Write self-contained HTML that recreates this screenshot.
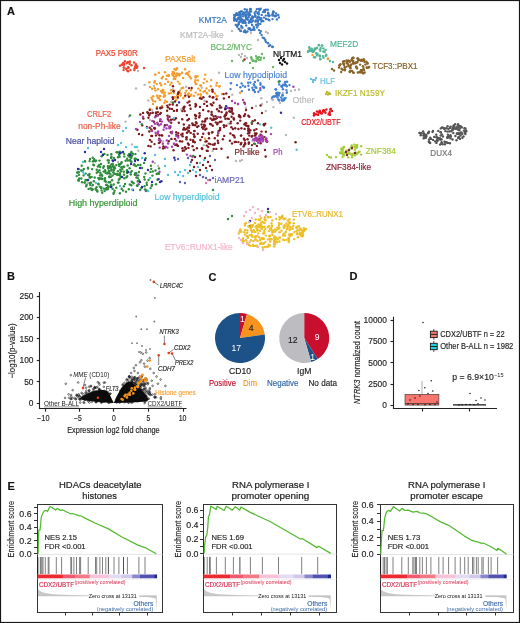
<!DOCTYPE html><html><head><meta charset="utf-8"><style>html,body{margin:0;padding:0;background:#fff;}svg{display:block;will-change:transform;}</style></head><body><svg width="520" height="623" viewBox="0 0 520 623" font-family="Liberation Sans, sans-serif"><rect x="0" y="0" width="520" height="623" fill="#fff"/><g fill="#3b78c3"><circle cx="249.2" cy="12.2" r="1.2"/><circle cx="264.6" cy="10.3" r="1.2"/><circle cx="259.2" cy="17.5" r="1.2"/><circle cx="236.7" cy="20.9" r="1.2"/><circle cx="235.8" cy="19.1" r="1.2"/><circle cx="254.0" cy="28.8" r="1.2"/><circle cx="239.8" cy="14.0" r="1.2"/><circle cx="261.1" cy="18.2" r="1.2"/><circle cx="274.3" cy="15.6" r="1.2"/><circle cx="240.8" cy="11.4" r="1.2"/><circle cx="248.5" cy="28.5" r="1.2"/><circle cx="242.5" cy="22.7" r="1.2"/><circle cx="264.0" cy="17.6" r="1.2"/><circle cx="259.7" cy="10.0" r="1.2"/><circle cx="236.8" cy="13.5" r="1.2"/><circle cx="266.0" cy="19.0" r="1.2"/><circle cx="248.8" cy="22.8" r="1.2"/><circle cx="255.3" cy="15.8" r="1.2"/><circle cx="245.5" cy="22.6" r="1.2"/><circle cx="268.3" cy="15.6" r="1.2"/><circle cx="253.7" cy="27.0" r="1.2"/><circle cx="241.1" cy="20.5" r="1.2"/><circle cx="235.8" cy="24.9" r="1.2"/><circle cx="275.1" cy="16.2" r="1.2"/><circle cx="261.3" cy="19.7" r="1.2"/><circle cx="256.3" cy="24.8" r="1.2"/><circle cx="236.9" cy="25.7" r="1.2"/><circle cx="272.6" cy="15.5" r="1.2"/><circle cx="252.1" cy="24.9" r="1.2"/><circle cx="235.1" cy="19.8" r="1.2"/><circle cx="241.9" cy="11.4" r="1.2"/><circle cx="240.1" cy="14.6" r="1.2"/><circle cx="252.4" cy="29.8" r="1.2"/><circle cx="237.8" cy="19.5" r="1.2"/><circle cx="247.1" cy="18.7" r="1.2"/><circle cx="250.9" cy="30.2" r="1.2"/><circle cx="242.3" cy="14.2" r="1.2"/><circle cx="245.0" cy="20.4" r="1.2"/><circle cx="261.7" cy="14.9" r="1.2"/><circle cx="234.2" cy="18.8" r="1.2"/><circle cx="251.4" cy="22.4" r="1.2"/><circle cx="258.2" cy="23.6" r="1.2"/><circle cx="265.8" cy="9.8" r="1.2"/><circle cx="252.4" cy="18.3" r="1.2"/><circle cx="238.9" cy="24.0" r="1.2"/><circle cx="243.8" cy="12.5" r="1.2"/><circle cx="250.0" cy="9.8" r="1.2"/><circle cx="238.8" cy="17.4" r="1.2"/><circle cx="262.9" cy="12.1" r="1.2"/><circle cx="245.9" cy="17.0" r="1.2"/><circle cx="251.1" cy="11.5" r="1.2"/><circle cx="255.9" cy="20.4" r="1.2"/><circle cx="250.1" cy="15.0" r="1.2"/><circle cx="273.0" cy="12.5" r="1.2"/><circle cx="258.8" cy="12.1" r="1.2"/><circle cx="259.5" cy="9.2" r="1.2"/><circle cx="246.3" cy="17.5" r="1.2"/><circle cx="241.9" cy="27.4" r="1.2"/><circle cx="249.5" cy="14.0" r="1.2"/><circle cx="244.7" cy="21.2" r="1.2"/><circle cx="250.7" cy="9.2" r="1.2"/><circle cx="235.3" cy="15.3" r="1.2"/><circle cx="246.2" cy="25.5" r="1.2"/><circle cx="278.9" cy="17.4" r="1.2"/><circle cx="244.4" cy="14.1" r="1.2"/><circle cx="243.2" cy="13.5" r="1.2"/><circle cx="238.0" cy="24.7" r="1.2"/><circle cx="269.3" cy="20.2" r="1.2"/><circle cx="242.4" cy="27.8" r="1.2"/><circle cx="249.6" cy="28.1" r="1.2"/><circle cx="268.1" cy="12.7" r="1.2"/><circle cx="240.0" cy="12.2" r="1.2"/><circle cx="240.9" cy="28.7" r="1.2"/><circle cx="250.5" cy="21.9" r="1.2"/><circle cx="254.4" cy="29.9" r="1.2"/><circle cx="272.8" cy="13.7" r="1.2"/><circle cx="245.8" cy="15.7" r="1.2"/><circle cx="245.3" cy="22.9" r="1.2"/><circle cx="246.2" cy="18.8" r="1.2"/><circle cx="240.2" cy="30.8" r="1.2"/><circle cx="250.6" cy="19.7" r="1.2"/><circle cx="257.6" cy="21.5" r="1.2"/><circle cx="258.6" cy="9.0" r="1.2"/><circle cx="254.7" cy="13.0" r="1.2"/><circle cx="242.1" cy="20.1" r="1.2"/><circle cx="249.3" cy="21.2" r="1.2"/><circle cx="239.0" cy="22.2" r="1.2"/><circle cx="245.7" cy="15.3" r="1.2"/><circle cx="276.9" cy="19.4" r="1.2"/><circle cx="262.8" cy="20.9" r="1.2"/><circle cx="258.1" cy="25.5" r="1.2"/><circle cx="255.3" cy="21.6" r="1.2"/><circle cx="278.3" cy="14.9" r="1.2"/><circle cx="273.5" cy="11.9" r="1.2"/><circle cx="239.7" cy="19.3" r="1.2"/><circle cx="237.4" cy="14.4" r="1.2"/><circle cx="237.4" cy="24.9" r="1.2"/><circle cx="241.3" cy="26.0" r="1.2"/><circle cx="265.0" cy="12.0" r="1.2"/><circle cx="244.3" cy="31.8" r="1.2"/><circle cx="252.7" cy="20.4" r="1.2"/><circle cx="241.6" cy="19.1" r="1.2"/><circle cx="258.2" cy="16.8" r="1.2"/><circle cx="243.2" cy="16.3" r="1.2"/><circle cx="260.0" cy="19.3" r="1.2"/><circle cx="234.8" cy="16.6" r="1.2"/><circle cx="263.3" cy="21.1" r="1.2"/><circle cx="238.9" cy="15.0" r="1.2"/><circle cx="246.7" cy="11.7" r="1.2"/><circle cx="272.5" cy="14.8" r="1.2"/><circle cx="241.0" cy="31.0" r="1.2"/><circle cx="266.3" cy="18.9" r="1.2"/><circle cx="255.3" cy="16.8" r="1.2"/><circle cx="246.6" cy="11.7" r="1.2"/><circle cx="258.8" cy="14.3" r="1.2"/><circle cx="239.1" cy="12.5" r="1.2"/><circle cx="236.4" cy="13.4" r="1.2"/><circle cx="248.7" cy="16.0" r="1.2"/><circle cx="269.7" cy="15.6" r="1.2"/><circle cx="257.5" cy="12.9" r="1.2"/><circle cx="250.3" cy="8.9" r="1.2"/><circle cx="242.9" cy="20.1" r="1.2"/><circle cx="272.5" cy="19.1" r="1.2"/><circle cx="252.5" cy="20.9" r="1.2"/><circle cx="250.1" cy="28.9" r="1.2"/><circle cx="253.0" cy="17.0" r="1.2"/><circle cx="237.3" cy="26.7" r="1.2"/><circle cx="246.0" cy="12.5" r="1.2"/><circle cx="247.3" cy="14.4" r="1.2"/><circle cx="247.8" cy="19.8" r="1.2"/><circle cx="241.4" cy="19.4" r="1.2"/><circle cx="246.4" cy="32.1" r="1.2"/><circle cx="245.5" cy="32.2" r="1.2"/><circle cx="248.5" cy="17.2" r="1.2"/><circle cx="234.1" cy="17.8" r="1.2"/><circle cx="256.3" cy="20.8" r="1.2"/><circle cx="243.4" cy="20.9" r="1.2"/><circle cx="234.2" cy="15.0" r="1.2"/><circle cx="238.2" cy="18.3" r="1.2"/><circle cx="248.3" cy="14.2" r="1.2"/><circle cx="261.5" cy="21.5" r="1.2"/><circle cx="252.3" cy="16.5" r="1.2"/><circle cx="240.5" cy="21.3" r="1.2"/><circle cx="244.8" cy="9.3" r="1.2"/><circle cx="240.3" cy="17.3" r="1.2"/><circle cx="238.9" cy="29.0" r="1.2"/><circle cx="260.3" cy="23.9" r="1.2"/><circle cx="257.6" cy="21.6" r="1.2"/><circle cx="265.0" cy="10.1" r="1.2"/><circle cx="268.6" cy="14.7" r="1.2"/><circle cx="237.5" cy="15.0" r="1.2"/><circle cx="268.3" cy="13.5" r="1.2"/><circle cx="257.2" cy="17.9" r="1.2"/><circle cx="256.5" cy="25.3" r="1.2"/><circle cx="264.2" cy="10.4" r="1.2"/><circle cx="240.9" cy="14.7" r="1.2"/><circle cx="268.9" cy="16.0" r="1.2"/><circle cx="260.7" cy="8.8" r="1.2"/><circle cx="236.9" cy="15.1" r="1.2"/><circle cx="265.8" cy="15.6" r="1.2"/><circle cx="258.3" cy="19.9" r="1.2"/><circle cx="255.9" cy="11.4" r="1.2"/><circle cx="276.0" cy="13.4" r="1.2"/><circle cx="234.8" cy="19.7" r="1.2"/><circle cx="255.1" cy="15.1" r="1.2"/><circle cx="243.9" cy="31.7" r="1.2"/><circle cx="243.9" cy="22.7" r="1.2"/><circle cx="240.7" cy="21.3" r="1.2"/><circle cx="244.9" cy="30.5" r="1.2"/><circle cx="256.8" cy="9.1" r="1.2"/><circle cx="234.2" cy="20.5" r="1.2"/><circle cx="255.2" cy="15.9" r="1.2"/><circle cx="240.6" cy="16.9" r="1.2"/><circle cx="248.9" cy="29.1" r="1.2"/><circle cx="273.4" cy="11.4" r="1.2"/><circle cx="276.4" cy="15.6" r="1.2"/><circle cx="251.5" cy="18.1" r="1.2"/><circle cx="251.0" cy="19.0" r="1.2"/><circle cx="246.9" cy="9.7" r="1.2"/><circle cx="238.8" cy="28.9" r="1.2"/><circle cx="247.4" cy="31.4" r="1.2"/><circle cx="245.7" cy="15.0" r="1.2"/><circle cx="258.0" cy="13.2" r="1.2"/><circle cx="267.8" cy="9.7" r="1.2"/><circle cx="268.4" cy="19.5" r="1.2"/><circle cx="257.0" cy="27.4" r="1.2"/><circle cx="259.0" cy="30.1" r="1.2"/><circle cx="260.2" cy="32.9" r="1.2"/><circle cx="261.6" cy="35.1" r="1.2"/><circle cx="262.8" cy="37.6" r="1.2"/><circle cx="265.3" cy="40.0" r="1.2"/><circle cx="265.8" cy="41.7" r="1.2"/><circle cx="267.6" cy="42.9" r="1.2"/><circle cx="270.1" cy="45.2" r="1.2"/><circle cx="272.2" cy="46.8" r="1.2"/><circle cx="272.7" cy="47.0" r="1.2"/><circle cx="268.1" cy="43.3" r="1.2"/><circle cx="260.8" cy="31.1" r="1.2"/><circle cx="264.1" cy="38.2" r="1.2"/><circle cx="268.9" cy="46.1" r="1.2"/></g><g fill="#b9b9b9"><circle cx="232.0" cy="31.0" r="1.2"/><circle cx="241.0" cy="29.0" r="1.2"/><circle cx="266.0" cy="32.0" r="1.2"/><circle cx="258.0" cy="40.0" r="1.2"/><circle cx="268.0" cy="33.0" r="1.2"/><circle cx="251.0" cy="33.0" r="1.2"/><circle cx="239.0" cy="55.0" r="1.2"/><circle cx="242.0" cy="54.0" r="1.2"/><circle cx="245.0" cy="56.0" r="1.2"/><circle cx="247.0" cy="58.0" r="1.2"/><circle cx="241.0" cy="57.0" r="1.2"/><circle cx="283.0" cy="93.0" r="1.2"/><circle cx="287.0" cy="92.0" r="1.2"/><circle cx="291.0" cy="91.0" r="1.2"/><circle cx="295.0" cy="90.0" r="1.2"/><circle cx="299.0" cy="89.5" r="1.2"/><circle cx="279.0" cy="96.0" r="1.2"/><circle cx="273.0" cy="100.0" r="1.2"/><circle cx="280.0" cy="103.0" r="1.2"/><circle cx="267.0" cy="102.0" r="1.2"/><circle cx="262.0" cy="104.0" r="1.2"/><circle cx="256.0" cy="106.0" r="1.2"/><circle cx="138.0" cy="71.0" r="1.2"/><circle cx="133.2" cy="165.0" r="1.2"/><circle cx="154.8" cy="163.1" r="1.2"/><circle cx="158.2" cy="165.9" r="1.2"/><circle cx="137.4" cy="181.5" r="1.2"/><circle cx="181.2" cy="109.4" r="1.2"/><circle cx="203.8" cy="145.3" r="1.2"/><circle cx="261.3" cy="98.3" r="1.2"/><circle cx="273.4" cy="107.1" r="1.2"/><circle cx="217.6" cy="96.0" r="1.2"/><circle cx="170.5" cy="139.4" r="1.2"/><circle cx="154.0" cy="85.9" r="1.2"/><circle cx="186.2" cy="86.7" r="1.2"/><circle cx="148.4" cy="100.5" r="1.2"/><circle cx="125.5" cy="121.6" r="1.2"/><circle cx="252.5" cy="140.7" r="1.2"/><circle cx="151.5" cy="130.4" r="1.2"/><circle cx="212.6" cy="150.9" r="1.2"/><circle cx="232.2" cy="94.8" r="1.2"/><circle cx="172.8" cy="89.2" r="1.2"/><circle cx="129.1" cy="116.6" r="1.2"/><circle cx="271.8" cy="99.3" r="1.2"/><circle cx="228.3" cy="123.6" r="1.2"/><circle cx="131.9" cy="144.5" r="1.2"/><circle cx="293.8" cy="117.8" r="1.2"/><circle cx="163.1" cy="141.4" r="1.2"/><circle cx="219.0" cy="72.7" r="1.2"/><circle cx="164.6" cy="148.1" r="1.2"/><circle cx="204.6" cy="100.8" r="1.2"/><circle cx="144.6" cy="84.9" r="1.2"/><circle cx="138.4" cy="150.8" r="1.2"/><circle cx="201.8" cy="87.8" r="1.2"/><circle cx="286.0" cy="135.0" r="1.2"/><circle cx="136.0" cy="88.5" r="1.2"/><circle cx="171.2" cy="102.0" r="1.2"/><circle cx="178.5" cy="74.0" r="1.2"/><circle cx="246.0" cy="107.9" r="1.2"/><circle cx="265.8" cy="111.0" r="1.2"/><circle cx="236.0" cy="161.0" r="1.2"/><circle cx="240.0" cy="161.0" r="1.2"/><circle cx="242.0" cy="160.0" r="1.2"/><circle cx="118.0" cy="162.0" r="1.2"/><circle cx="88.0" cy="183.0" r="1.2"/><circle cx="92.0" cy="186.0" r="1.2"/><circle cx="150.0" cy="120.0" r="1.2"/><circle cx="152.0" cy="110.0" r="1.2"/><circle cx="147.0" cy="112.0" r="1.2"/></g><g fill="#66b866"><circle cx="256.2" cy="61.3" r="1.2"/><circle cx="251.3" cy="57.2" r="1.2"/><circle cx="256.0" cy="56.1" r="1.2"/><circle cx="252.6" cy="60.7" r="1.2"/><circle cx="253.7" cy="60.8" r="1.2"/><circle cx="258.7" cy="59.9" r="1.2"/><circle cx="257.9" cy="58.7" r="1.2"/><circle cx="251.6" cy="58.9" r="1.2"/><circle cx="257.7" cy="57.4" r="1.2"/><circle cx="255.6" cy="61.2" r="1.2"/><circle cx="253.0" cy="60.8" r="1.2"/><circle cx="260.9" cy="57.8" r="1.2"/><circle cx="256.6" cy="58.5" r="1.2"/><circle cx="260.5" cy="59.8" r="1.2"/><circle cx="259.0" cy="57.1" r="1.2"/><circle cx="232.0" cy="61.0" r="1.2"/><circle cx="243.0" cy="61.0" r="1.2"/><circle cx="253.0" cy="68.0" r="1.2"/><circle cx="262.0" cy="54.0" r="1.2"/><circle cx="273.0" cy="67.0" r="1.2"/><circle cx="264.0" cy="58.0" r="1.2"/><circle cx="250.0" cy="63.0" r="1.2"/></g><g fill="#b01a1a"><circle cx="244.5" cy="59.5" r="1.2"/></g><g fill="#111111"><circle cx="279.0" cy="60.0" r="1.2"/><circle cx="281.0" cy="58.0" r="1.2"/><circle cx="283.0" cy="60.5" r="1.2"/><circle cx="285.0" cy="62.0" r="1.2"/><circle cx="287.0" cy="63.5" r="1.2"/><circle cx="280.0" cy="63.0" r="1.2"/><circle cx="282.0" cy="64.5" r="1.2"/><circle cx="284.0" cy="59.0" r="1.2"/></g><g fill="#52b596"><circle cx="318.7" cy="45.0" r="1.2"/><circle cx="323.5" cy="57.8" r="1.2"/><circle cx="309.2" cy="47.3" r="1.2"/><circle cx="317.4" cy="55.2" r="1.2"/><circle cx="325.8" cy="55.8" r="1.2"/><circle cx="319.9" cy="56.5" r="1.2"/><circle cx="316.1" cy="53.3" r="1.2"/><circle cx="319.9" cy="49.6" r="1.2"/><circle cx="309.6" cy="48.8" r="1.2"/><circle cx="319.7" cy="55.5" r="1.2"/><circle cx="317.5" cy="53.7" r="1.2"/><circle cx="314.8" cy="48.4" r="1.2"/><circle cx="319.0" cy="45.2" r="1.2"/><circle cx="313.0" cy="51.9" r="1.2"/><circle cx="326.2" cy="54.7" r="1.2"/><circle cx="324.7" cy="52.1" r="1.2"/><circle cx="311.7" cy="48.7" r="1.2"/><circle cx="326.2" cy="55.6" r="1.2"/><circle cx="317.0" cy="55.1" r="1.2"/><circle cx="315.4" cy="48.9" r="1.2"/><circle cx="320.3" cy="58.9" r="1.2"/><circle cx="313.8" cy="51.3" r="1.2"/><circle cx="320.7" cy="48.0" r="1.2"/><circle cx="322.9" cy="56.1" r="1.2"/><circle cx="317.1" cy="48.1" r="1.2"/><circle cx="323.4" cy="48.5" r="1.2"/><circle cx="316.9" cy="47.8" r="1.2"/><circle cx="311.5" cy="51.3" r="1.2"/><circle cx="320.3" cy="59.2" r="1.2"/><circle cx="309.9" cy="50.9" r="1.2"/><circle cx="308.2" cy="50.9" r="1.2"/><circle cx="325.6" cy="49.9" r="1.2"/><circle cx="321.9" cy="45.5" r="1.2"/><circle cx="320.3" cy="50.7" r="1.2"/><circle cx="314.5" cy="50.0" r="1.2"/><circle cx="312.6" cy="50.3" r="1.2"/><circle cx="314.1" cy="57.3" r="1.2"/><circle cx="323.4" cy="51.5" r="1.2"/><circle cx="308.0" cy="52.1" r="1.2"/><circle cx="310.9" cy="50.5" r="1.2"/><circle cx="315.2" cy="57.2" r="1.2"/><circle cx="322.3" cy="45.6" r="1.2"/><circle cx="328.0" cy="59.0" r="1.2"/><circle cx="330.0" cy="61.0" r="1.2"/><circle cx="333.0" cy="62.0" r="1.2"/></g><g fill="#f59c2a"><circle cx="312.5" cy="55.0" r="1.2"/><circle cx="328.0" cy="58.5" r="1.2"/><circle cx="167.0" cy="75.7" r="1.2"/><circle cx="204.5" cy="79.1" r="1.2"/><circle cx="165.4" cy="100.6" r="1.2"/><circle cx="195.6" cy="92.6" r="1.2"/><circle cx="183.2" cy="98.1" r="1.2"/><circle cx="180.7" cy="93.8" r="1.2"/><circle cx="190.9" cy="78.4" r="1.2"/><circle cx="163.3" cy="90.0" r="1.2"/><circle cx="153.0" cy="100.7" r="1.2"/><circle cx="155.2" cy="101.4" r="1.2"/><circle cx="173.6" cy="72.2" r="1.2"/><circle cx="200.3" cy="90.5" r="1.2"/><circle cx="200.7" cy="94.3" r="1.2"/><circle cx="152.1" cy="88.8" r="1.2"/><circle cx="175.0" cy="97.2" r="1.2"/><circle cx="152.1" cy="99.1" r="1.2"/><circle cx="155.2" cy="74.6" r="1.2"/><circle cx="195.6" cy="77.6" r="1.2"/><circle cx="205.3" cy="74.6" r="1.2"/><circle cx="171.6" cy="82.7" r="1.2"/><circle cx="168.8" cy="93.5" r="1.2"/><circle cx="175.3" cy="78.9" r="1.2"/><circle cx="212.6" cy="89.9" r="1.2"/><circle cx="149.4" cy="82.3" r="1.2"/><circle cx="180.6" cy="95.6" r="1.2"/><circle cx="173.7" cy="93.1" r="1.2"/><circle cx="188.4" cy="75.0" r="1.2"/><circle cx="184.8" cy="96.5" r="1.2"/><circle cx="161.2" cy="85.3" r="1.2"/><circle cx="173.7" cy="97.8" r="1.2"/><circle cx="167.1" cy="101.9" r="1.2"/><circle cx="168.8" cy="74.9" r="1.2"/><circle cx="200.9" cy="85.4" r="1.2"/><circle cx="155.5" cy="90.6" r="1.2"/><circle cx="153.2" cy="96.2" r="1.2"/><circle cx="200.7" cy="96.1" r="1.2"/><circle cx="195.4" cy="80.2" r="1.2"/><circle cx="177.9" cy="81.6" r="1.2"/><circle cx="162.9" cy="76.7" r="1.2"/><circle cx="216.4" cy="85.5" r="1.2"/><circle cx="176.2" cy="99.7" r="1.2"/><circle cx="165.0" cy="84.1" r="1.2"/><circle cx="187.9" cy="94.9" r="1.2"/><circle cx="205.0" cy="90.9" r="1.2"/><circle cx="173.8" cy="79.1" r="1.2"/><circle cx="159.0" cy="98.2" r="1.2"/><circle cx="198.0" cy="94.5" r="1.2"/><circle cx="160.1" cy="83.2" r="1.2"/><circle cx="206.6" cy="88.4" r="1.2"/><circle cx="156.7" cy="84.1" r="1.2"/><circle cx="161.8" cy="78.2" r="1.2"/><circle cx="158.9" cy="72.8" r="1.2"/><circle cx="166.1" cy="79.1" r="1.2"/><circle cx="187.2" cy="73.0" r="1.2"/><circle cx="172.3" cy="74.0" r="1.2"/><circle cx="222.1" cy="94.0" r="1.2"/><circle cx="154.8" cy="81.2" r="1.2"/><circle cx="203.5" cy="83.1" r="1.2"/><circle cx="162.1" cy="90.6" r="1.2"/><circle cx="155.2" cy="74.6" r="1.2"/><circle cx="176.9" cy="68.3" r="1.2"/><circle cx="177.7" cy="96.3" r="1.2"/><circle cx="200.4" cy="85.5" r="1.2"/><circle cx="195.7" cy="84.1" r="1.2"/><circle cx="157.9" cy="89.3" r="1.2"/><circle cx="178.2" cy="94.4" r="1.2"/><circle cx="216.9" cy="82.9" r="1.2"/><circle cx="191.2" cy="94.7" r="1.2"/><circle cx="179.4" cy="75.5" r="1.2"/><circle cx="206.6" cy="92.9" r="1.2"/><circle cx="212.6" cy="92.1" r="1.2"/><circle cx="196.4" cy="83.8" r="1.2"/><circle cx="171.1" cy="90.2" r="1.2"/><circle cx="154.5" cy="82.5" r="1.2"/><circle cx="207.2" cy="93.4" r="1.2"/><circle cx="195.5" cy="76.3" r="1.2"/><circle cx="179.6" cy="83.8" r="1.2"/><circle cx="194.9" cy="82.1" r="1.2"/><circle cx="161.1" cy="91.2" r="1.2"/><circle cx="206.9" cy="81.4" r="1.2"/><circle cx="149.9" cy="87.1" r="1.2"/><circle cx="159.4" cy="95.9" r="1.2"/><circle cx="219.4" cy="86.2" r="1.2"/><circle cx="154.8" cy="88.3" r="1.2"/><circle cx="188.7" cy="93.5" r="1.2"/><circle cx="186.4" cy="90.7" r="1.2"/><circle cx="210.8" cy="86.3" r="1.2"/><circle cx="163.2" cy="92.3" r="1.2"/><circle cx="177.2" cy="95.2" r="1.2"/><circle cx="174.4" cy="69.1" r="1.2"/><circle cx="168.1" cy="81.8" r="1.2"/><circle cx="179.4" cy="92.8" r="1.2"/><circle cx="174.1" cy="76.8" r="1.2"/><circle cx="164.3" cy="94.4" r="1.2"/><circle cx="219.4" cy="86.5" r="1.2"/><circle cx="163.9" cy="96.7" r="1.2"/><circle cx="177.2" cy="74.8" r="1.2"/><circle cx="157.0" cy="95.7" r="1.2"/><circle cx="209.3" cy="90.5" r="1.2"/><circle cx="183.1" cy="87.8" r="1.2"/><circle cx="164.4" cy="102.7" r="1.2"/><circle cx="174.2" cy="90.6" r="1.2"/><circle cx="183.0" cy="77.9" r="1.2"/><circle cx="189.2" cy="71.6" r="1.2"/><circle cx="211.2" cy="80.1" r="1.2"/><circle cx="176.0" cy="76.4" r="1.2"/><circle cx="179.8" cy="73.9" r="1.2"/><circle cx="168.7" cy="76.1" r="1.2"/><circle cx="170.2" cy="84.7" r="1.2"/><circle cx="180.0" cy="90.6" r="1.2"/><circle cx="197.8" cy="80.4" r="1.2"/><circle cx="151.4" cy="97.6" r="1.2"/><circle cx="216.7" cy="96.0" r="1.2"/><circle cx="157.8" cy="97.8" r="1.2"/><circle cx="197.5" cy="76.3" r="1.2"/><circle cx="165.0" cy="95.7" r="1.2"/><circle cx="173.7" cy="72.6" r="1.2"/><circle cx="216.6" cy="96.3" r="1.2"/><circle cx="159.9" cy="100.0" r="1.2"/><circle cx="193.8" cy="95.9" r="1.2"/><circle cx="162.2" cy="92.6" r="1.2"/><circle cx="187.9" cy="94.5" r="1.2"/><circle cx="189.7" cy="76.8" r="1.2"/><circle cx="165.0" cy="72.2" r="1.2"/><circle cx="185.0" cy="69.2" r="1.2"/><circle cx="177.0" cy="73.4" r="1.2"/><circle cx="174.4" cy="73.2" r="1.2"/><circle cx="172.8" cy="71.9" r="1.2"/><circle cx="187.3" cy="73.2" r="1.2"/><circle cx="174.1" cy="73.7" r="1.2"/><circle cx="176.3" cy="69.0" r="1.2"/><circle cx="176.3" cy="75.3" r="1.2"/><circle cx="182.1" cy="72.7" r="1.2"/><circle cx="175.8" cy="70.0" r="1.2"/><circle cx="186.1" cy="73.7" r="1.2"/><circle cx="153.0" cy="104.0" r="1.2"/><circle cx="157.0" cy="107.0" r="1.2"/><circle cx="162.0" cy="106.0" r="1.2"/><circle cx="150.0" cy="109.0" r="1.2"/><circle cx="190.9" cy="90.2" r="1.2"/><circle cx="214.9" cy="93.5" r="1.2"/><circle cx="216.7" cy="96.6" r="1.2"/><circle cx="164.9" cy="92.6" r="1.2"/><circle cx="198.3" cy="88.6" r="1.2"/><circle cx="171.0" cy="93.1" r="1.2"/><circle cx="190.4" cy="96.1" r="1.2"/><circle cx="185.2" cy="93.0" r="1.2"/><circle cx="160.4" cy="96.1" r="1.2"/><circle cx="181.7" cy="88.3" r="1.2"/><circle cx="162.9" cy="90.0" r="1.2"/><circle cx="203.6" cy="91.8" r="1.2"/><circle cx="205.1" cy="138.8" r="1.2"/><circle cx="173.1" cy="75.3" r="1.2"/><circle cx="240.1" cy="92.7" r="1.2"/></g><g fill="#8a6327"><circle cx="361.4" cy="72.3" r="1.2"/><circle cx="347.5" cy="61.6" r="1.2"/><circle cx="368.6" cy="67.5" r="1.2"/><circle cx="344.9" cy="69.2" r="1.2"/><circle cx="346.8" cy="61.7" r="1.2"/><circle cx="367.2" cy="67.8" r="1.2"/><circle cx="344.0" cy="65.1" r="1.2"/><circle cx="349.1" cy="61.3" r="1.2"/><circle cx="350.6" cy="65.4" r="1.2"/><circle cx="363.3" cy="69.6" r="1.2"/><circle cx="364.0" cy="70.1" r="1.2"/><circle cx="356.6" cy="62.6" r="1.2"/><circle cx="346.9" cy="63.2" r="1.2"/><circle cx="342.7" cy="69.8" r="1.2"/><circle cx="339.3" cy="65.5" r="1.2"/><circle cx="360.1" cy="64.6" r="1.2"/><circle cx="344.0" cy="64.1" r="1.2"/><circle cx="357.1" cy="68.5" r="1.2"/><circle cx="361.4" cy="71.4" r="1.2"/><circle cx="358.6" cy="59.1" r="1.2"/><circle cx="364.6" cy="62.0" r="1.2"/><circle cx="355.3" cy="63.3" r="1.2"/><circle cx="361.1" cy="60.4" r="1.2"/><circle cx="344.4" cy="61.2" r="1.2"/><circle cx="341.2" cy="72.0" r="1.2"/><circle cx="355.7" cy="62.5" r="1.2"/><circle cx="353.2" cy="60.9" r="1.2"/><circle cx="363.5" cy="68.1" r="1.2"/><circle cx="352.1" cy="70.9" r="1.2"/><circle cx="364.6" cy="72.5" r="1.2"/><circle cx="369.1" cy="66.9" r="1.2"/><circle cx="367.6" cy="63.3" r="1.2"/><circle cx="365.4" cy="64.6" r="1.2"/><circle cx="344.8" cy="70.2" r="1.2"/><circle cx="356.3" cy="67.5" r="1.2"/><circle cx="343.4" cy="63.3" r="1.2"/><circle cx="344.7" cy="67.2" r="1.2"/><circle cx="358.2" cy="60.5" r="1.2"/><circle cx="359.1" cy="60.1" r="1.2"/><circle cx="346.6" cy="60.5" r="1.2"/><circle cx="363.0" cy="66.3" r="1.2"/><circle cx="349.4" cy="66.4" r="1.2"/><circle cx="357.7" cy="58.5" r="1.2"/><circle cx="341.6" cy="68.8" r="1.2"/><circle cx="349.9" cy="61.8" r="1.2"/><circle cx="346.6" cy="66.6" r="1.2"/><circle cx="348.1" cy="64.1" r="1.2"/><circle cx="348.4" cy="60.4" r="1.2"/><circle cx="360.8" cy="60.5" r="1.2"/><circle cx="350.4" cy="70.9" r="1.2"/><circle cx="349.8" cy="72.0" r="1.2"/><circle cx="351.7" cy="59.8" r="1.2"/><circle cx="357.8" cy="72.5" r="1.2"/><circle cx="339.0" cy="67.6" r="1.2"/><circle cx="348.6" cy="65.6" r="1.2"/><circle cx="353.7" cy="72.7" r="1.2"/><circle cx="339.7" cy="65.3" r="1.2"/><circle cx="363.4" cy="73.4" r="1.2"/><circle cx="352.4" cy="57.9" r="1.2"/><circle cx="367.5" cy="63.6" r="1.2"/><circle cx="366.7" cy="67.5" r="1.2"/><circle cx="364.0" cy="59.7" r="1.2"/><circle cx="362.7" cy="60.8" r="1.2"/><circle cx="349.8" cy="71.4" r="1.2"/><circle cx="364.2" cy="60.1" r="1.2"/><circle cx="343.4" cy="63.8" r="1.2"/><circle cx="353.6" cy="63.5" r="1.2"/><circle cx="360.6" cy="72.3" r="1.2"/><circle cx="356.4" cy="66.4" r="1.2"/><circle cx="357.3" cy="62.2" r="1.2"/><circle cx="350.3" cy="66.9" r="1.2"/><circle cx="350.5" cy="68.2" r="1.2"/><circle cx="351.2" cy="64.5" r="1.2"/><circle cx="352.6" cy="61.0" r="1.2"/><circle cx="362.0" cy="70.3" r="1.2"/><circle cx="351.6" cy="60.1" r="1.2"/><circle cx="352.1" cy="58.8" r="1.2"/><circle cx="340.4" cy="64.3" r="1.2"/><circle cx="353.3" cy="57.7" r="1.2"/><circle cx="357.6" cy="58.4" r="1.2"/><circle cx="360.9" cy="70.2" r="1.2"/><circle cx="353.4" cy="57.9" r="1.2"/><circle cx="353.1" cy="63.4" r="1.2"/><circle cx="360.9" cy="70.9" r="1.2"/><circle cx="362.8" cy="72.8" r="1.2"/><circle cx="361.7" cy="59.7" r="1.2"/><circle cx="366.5" cy="61.7" r="1.2"/><circle cx="363.7" cy="59.4" r="1.2"/><circle cx="353.1" cy="72.6" r="1.2"/><circle cx="343.1" cy="61.5" r="1.2"/><circle cx="353.2" cy="62.4" r="1.2"/><circle cx="359.1" cy="72.2" r="1.2"/><circle cx="332.0" cy="69.0" r="1.2"/><circle cx="334.0" cy="70.5" r="1.2"/></g><g fill="#6cbde8"><circle cx="311.0" cy="79.0" r="1.2"/><circle cx="313.0" cy="80.0" r="1.2"/><circle cx="315.0" cy="80.0" r="1.2"/><circle cx="313.0" cy="82.0" r="1.2"/><circle cx="316.0" cy="78.0" r="1.2"/><circle cx="286.0" cy="98.0" r="1.2"/></g><g fill="#bdbb2e"><circle cx="327.0" cy="92.0" r="1.2"/><circle cx="329.0" cy="93.0" r="1.2"/><circle cx="328.0" cy="94.5" r="1.2"/><circle cx="330.0" cy="94.0" r="1.2"/><circle cx="326.0" cy="94.0" r="1.2"/></g><g fill="#e8141c"><circle cx="314.5" cy="114.4" r="1.2"/><circle cx="314.0" cy="113.2" r="1.2"/><circle cx="318.7" cy="112.3" r="1.2"/><circle cx="320.9" cy="113.3" r="1.2"/><circle cx="318.2" cy="114.9" r="1.2"/><circle cx="313.9" cy="115.5" r="1.2"/><circle cx="318.7" cy="112.5" r="1.2"/><circle cx="320.2" cy="111.8" r="1.2"/><circle cx="321.9" cy="113.4" r="1.2"/><circle cx="316.2" cy="114.3" r="1.2"/><circle cx="317.0" cy="111.4" r="1.2"/><circle cx="319.7" cy="110.7" r="1.2"/><circle cx="332.0" cy="110.9" r="1.2"/><circle cx="330.0" cy="114.9" r="1.2"/><circle cx="329.4" cy="113.2" r="1.2"/><circle cx="326.4" cy="109.5" r="1.2"/><circle cx="323.4" cy="110.3" r="1.2"/><circle cx="329.8" cy="111.9" r="1.2"/><circle cx="328.6" cy="114.4" r="1.2"/><circle cx="324.5" cy="110.7" r="1.2"/><circle cx="330.2" cy="109.6" r="1.2"/><circle cx="323.0" cy="111.5" r="1.2"/><circle cx="324.2" cy="111.5" r="1.2"/><circle cx="325.5" cy="112.7" r="1.2"/><circle cx="330.8" cy="108.9" r="1.2"/></g><g fill="#ec4530"><circle cx="124.2" cy="64.7" r="1.2"/><circle cx="123.1" cy="63.3" r="1.2"/><circle cx="134.4" cy="70.0" r="1.2"/><circle cx="128.2" cy="68.1" r="1.2"/><circle cx="134.6" cy="68.5" r="1.2"/><circle cx="134.1" cy="62.5" r="1.2"/><circle cx="123.8" cy="67.6" r="1.2"/><circle cx="136.0" cy="66.3" r="1.2"/><circle cx="122.5" cy="64.8" r="1.2"/><circle cx="123.9" cy="63.1" r="1.2"/><circle cx="135.9" cy="64.2" r="1.2"/><circle cx="128.1" cy="71.2" r="1.2"/><circle cx="135.0" cy="67.1" r="1.2"/><circle cx="124.0" cy="67.5" r="1.2"/><circle cx="136.2" cy="67.7" r="1.2"/><circle cx="135.4" cy="66.3" r="1.2"/><circle cx="131.5" cy="65.2" r="1.2"/><circle cx="130.4" cy="70.1" r="1.2"/><circle cx="120.0" cy="65.8" r="1.2"/><circle cx="129.6" cy="63.9" r="1.2"/><circle cx="126.0" cy="68.8" r="1.2"/><circle cx="137.0" cy="67.6" r="1.2"/><circle cx="129.7" cy="61.4" r="1.2"/><circle cx="137.2" cy="66.2" r="1.2"/><circle cx="127.8" cy="62.3" r="1.2"/><circle cx="127.7" cy="62.3" r="1.2"/><circle cx="128.5" cy="67.8" r="1.2"/><circle cx="128.2" cy="67.1" r="1.2"/><circle cx="123.6" cy="70.1" r="1.2"/><circle cx="124.9" cy="61.2" r="1.2"/><circle cx="126.8" cy="63.2" r="1.2"/><circle cx="121.8" cy="64.8" r="1.2"/><circle cx="129.7" cy="62.1" r="1.2"/><circle cx="127.2" cy="70.4" r="1.2"/><circle cx="144.0" cy="68.0" r="1.2"/></g><g fill="#3f7fcf"><circle cx="254.9" cy="92.0" r="1.2"/><circle cx="248.4" cy="85.8" r="1.2"/><circle cx="256.3" cy="87.8" r="1.2"/><circle cx="241.9" cy="91.1" r="1.2"/><circle cx="242.9" cy="85.6" r="1.2"/><circle cx="249.0" cy="89.8" r="1.2"/><circle cx="237.0" cy="85.1" r="1.2"/><circle cx="245.1" cy="86.8" r="1.2"/><circle cx="260.4" cy="83.1" r="1.2"/><circle cx="260.5" cy="84.7" r="1.2"/><circle cx="248.1" cy="82.8" r="1.2"/><circle cx="253.9" cy="90.1" r="1.2"/><circle cx="241.6" cy="83.4" r="1.2"/><circle cx="240.4" cy="87.2" r="1.2"/><circle cx="253.1" cy="90.0" r="1.2"/><circle cx="230.5" cy="89.1" r="1.2"/><circle cx="262.7" cy="86.6" r="1.2"/><circle cx="230.9" cy="83.2" r="1.2"/><circle cx="264.0" cy="87.5" r="1.2"/><circle cx="254.0" cy="90.0" r="1.2"/><circle cx="263.6" cy="87.6" r="1.2"/><circle cx="252.4" cy="87.8" r="1.2"/><circle cx="255.5" cy="87.3" r="1.2"/><circle cx="254.9" cy="82.0" r="1.2"/><circle cx="254.3" cy="85.4" r="1.2"/><circle cx="258.0" cy="80.4" r="1.2"/><circle cx="258.4" cy="91.8" r="1.2"/><circle cx="253.9" cy="84.2" r="1.2"/><circle cx="260.3" cy="90.0" r="1.2"/><circle cx="250.4" cy="82.6" r="1.2"/><circle cx="275.6" cy="89.3" r="1.2"/><circle cx="276.0" cy="89.5" r="1.2"/><circle cx="283.1" cy="100.5" r="1.2"/><circle cx="286.8" cy="92.7" r="1.2"/><circle cx="282.0" cy="100.6" r="1.2"/><circle cx="283.2" cy="84.7" r="1.2"/><circle cx="284.8" cy="85.3" r="1.2"/><circle cx="285.1" cy="84.1" r="1.2"/><circle cx="284.7" cy="98.8" r="1.2"/><circle cx="285.1" cy="81.9" r="1.2"/><circle cx="282.8" cy="95.6" r="1.2"/><circle cx="279.1" cy="100.5" r="1.2"/><circle cx="287.0" cy="81.8" r="1.2"/><circle cx="275.8" cy="96.0" r="1.2"/><circle cx="279.7" cy="81.3" r="1.2"/><circle cx="277.1" cy="92.6" r="1.2"/><circle cx="278.7" cy="94.9" r="1.2"/><circle cx="272.2" cy="97.5" r="1.2"/><circle cx="277.0" cy="94.2" r="1.2"/><circle cx="282.9" cy="89.2" r="1.2"/><circle cx="277.5" cy="97.3" r="1.2"/><circle cx="281.5" cy="86.4" r="1.2"/><circle cx="284.5" cy="98.2" r="1.2"/><circle cx="276.3" cy="93.3" r="1.2"/><circle cx="282.2" cy="86.8" r="1.2"/><circle cx="278.4" cy="99.5" r="1.2"/><circle cx="277.3" cy="95.1" r="1.2"/><circle cx="282.2" cy="99.7" r="1.2"/><circle cx="286.8" cy="86.2" r="1.2"/><circle cx="278.3" cy="92.9" r="1.2"/><circle cx="281.6" cy="86.0" r="1.2"/><circle cx="284.1" cy="100.1" r="1.2"/><circle cx="281.2" cy="97.5" r="1.2"/><circle cx="273.4" cy="96.5" r="1.2"/><circle cx="289.5" cy="85.1" r="1.2"/><circle cx="282.4" cy="94.9" r="1.2"/><circle cx="279.2" cy="84.5" r="1.2"/><circle cx="274.6" cy="96.5" r="1.2"/><circle cx="286.4" cy="90.1" r="1.2"/><circle cx="286.0" cy="85.1" r="1.2"/><circle cx="281.8" cy="99.7" r="1.2"/><circle cx="279.5" cy="93.0" r="1.2"/></g><g fill="#7b1b1f"><circle cx="160.5" cy="108.2" r="1.2"/><circle cx="159.4" cy="135.2" r="1.2"/><circle cx="184.0" cy="127.9" r="1.2"/><circle cx="189.3" cy="125.4" r="1.2"/><circle cx="149.3" cy="131.5" r="1.2"/><circle cx="215.6" cy="116.3" r="1.2"/><circle cx="251.9" cy="123.8" r="1.2"/><circle cx="211.6" cy="111.9" r="1.2"/><circle cx="240.2" cy="120.6" r="1.2"/><circle cx="262.8" cy="138.7" r="1.2"/><circle cx="162.1" cy="107.6" r="1.2"/><circle cx="210.2" cy="144.1" r="1.2"/><circle cx="196.9" cy="148.2" r="1.2"/><circle cx="215.7" cy="119.1" r="1.2"/><circle cx="169.7" cy="127.9" r="1.2"/><circle cx="221.5" cy="148.7" r="1.2"/><circle cx="225.4" cy="118.8" r="1.2"/><circle cx="195.5" cy="106.5" r="1.2"/><circle cx="169.5" cy="116.7" r="1.2"/><circle cx="256.9" cy="145.9" r="1.2"/><circle cx="241.2" cy="135.6" r="1.2"/><circle cx="226.4" cy="113.8" r="1.2"/><circle cx="214.8" cy="138.2" r="1.2"/><circle cx="149.2" cy="115.2" r="1.2"/><circle cx="169.7" cy="104.6" r="1.2"/><circle cx="200.0" cy="106.9" r="1.2"/><circle cx="167.2" cy="105.6" r="1.2"/><circle cx="231.8" cy="108.3" r="1.2"/><circle cx="164.8" cy="147.5" r="1.2"/><circle cx="252.0" cy="145.1" r="1.2"/><circle cx="153.9" cy="121.7" r="1.2"/><circle cx="248.7" cy="131.3" r="1.2"/><circle cx="196.1" cy="116.0" r="1.2"/><circle cx="246.1" cy="123.3" r="1.2"/><circle cx="219.8" cy="105.6" r="1.2"/><circle cx="231.4" cy="127.3" r="1.2"/><circle cx="154.5" cy="144.1" r="1.2"/><circle cx="171.0" cy="119.8" r="1.2"/><circle cx="156.0" cy="112.4" r="1.2"/><circle cx="248.3" cy="115.7" r="1.2"/><circle cx="157.7" cy="124.0" r="1.2"/><circle cx="177.9" cy="145.9" r="1.2"/><circle cx="225.2" cy="109.2" r="1.2"/><circle cx="199.5" cy="113.2" r="1.2"/><circle cx="169.8" cy="108.7" r="1.2"/><circle cx="184.2" cy="150.5" r="1.2"/><circle cx="148.2" cy="113.3" r="1.2"/><circle cx="233.1" cy="113.6" r="1.2"/><circle cx="243.9" cy="116.1" r="1.2"/><circle cx="247.4" cy="125.9" r="1.2"/><circle cx="160.1" cy="121.1" r="1.2"/><circle cx="212.1" cy="105.3" r="1.2"/><circle cx="159.3" cy="138.8" r="1.2"/><circle cx="231.1" cy="108.4" r="1.2"/><circle cx="217.2" cy="124.3" r="1.2"/><circle cx="172.0" cy="108.9" r="1.2"/><circle cx="217.7" cy="135.5" r="1.2"/><circle cx="244.6" cy="128.9" r="1.2"/><circle cx="233.9" cy="119.6" r="1.2"/><circle cx="244.4" cy="115.8" r="1.2"/><circle cx="248.7" cy="143.8" r="1.2"/><circle cx="201.6" cy="98.8" r="1.2"/><circle cx="257.9" cy="123.3" r="1.2"/><circle cx="160.1" cy="142.1" r="1.2"/><circle cx="184.6" cy="106.7" r="1.2"/><circle cx="185.1" cy="129.5" r="1.2"/><circle cx="195.2" cy="125.3" r="1.2"/><circle cx="151.3" cy="135.9" r="1.2"/><circle cx="245.2" cy="143.9" r="1.2"/><circle cx="178.3" cy="135.7" r="1.2"/><circle cx="186.5" cy="137.8" r="1.2"/><circle cx="263.8" cy="124.2" r="1.2"/><circle cx="204.3" cy="126.1" r="1.2"/><circle cx="168.8" cy="141.3" r="1.2"/><circle cx="229.4" cy="108.3" r="1.2"/><circle cx="137.4" cy="129.8" r="1.2"/><circle cx="212.8" cy="125.7" r="1.2"/><circle cx="252.4" cy="136.0" r="1.2"/><circle cx="201.6" cy="124.5" r="1.2"/><circle cx="172.7" cy="104.5" r="1.2"/><circle cx="189.8" cy="105.3" r="1.2"/><circle cx="214.9" cy="143.6" r="1.2"/><circle cx="154.9" cy="128.4" r="1.2"/><circle cx="187.5" cy="120.3" r="1.2"/><circle cx="248.4" cy="125.9" r="1.2"/><circle cx="188.4" cy="147.9" r="1.2"/><circle cx="239.9" cy="115.9" r="1.2"/><circle cx="167.5" cy="115.8" r="1.2"/><circle cx="193.8" cy="150.0" r="1.2"/><circle cx="243.6" cy="146.4" r="1.2"/><circle cx="245.0" cy="142.9" r="1.2"/><circle cx="142.2" cy="125.4" r="1.2"/><circle cx="168.7" cy="120.4" r="1.2"/><circle cx="220.4" cy="117.3" r="1.2"/><circle cx="206.7" cy="101.7" r="1.2"/><circle cx="193.5" cy="124.8" r="1.2"/><circle cx="265.9" cy="139.2" r="1.2"/><circle cx="261.5" cy="131.6" r="1.2"/><circle cx="244.3" cy="144.9" r="1.2"/><circle cx="221.6" cy="112.1" r="1.2"/><circle cx="226.6" cy="112.5" r="1.2"/><circle cx="208.2" cy="147.0" r="1.2"/><circle cx="218.9" cy="111.3" r="1.2"/><circle cx="205.2" cy="121.0" r="1.2"/><circle cx="176.2" cy="132.3" r="1.2"/><circle cx="151.3" cy="129.5" r="1.2"/><circle cx="264.1" cy="125.2" r="1.2"/><circle cx="171.2" cy="122.7" r="1.2"/><circle cx="207.1" cy="105.9" r="1.2"/><circle cx="174.6" cy="119.5" r="1.2"/><circle cx="173.9" cy="110.9" r="1.2"/><circle cx="146.9" cy="127.0" r="1.2"/><circle cx="248.4" cy="130.3" r="1.2"/><circle cx="212.0" cy="132.5" r="1.2"/><circle cx="162.2" cy="135.6" r="1.2"/><circle cx="197.2" cy="127.0" r="1.2"/><circle cx="217.7" cy="122.9" r="1.2"/><circle cx="176.9" cy="110.8" r="1.2"/><circle cx="164.9" cy="125.2" r="1.2"/><circle cx="186.7" cy="129.0" r="1.2"/><circle cx="210.1" cy="124.0" r="1.2"/><circle cx="173.5" cy="150.3" r="1.2"/><circle cx="174.9" cy="138.9" r="1.2"/><circle cx="252.6" cy="121.3" r="1.2"/><circle cx="143.4" cy="118.6" r="1.2"/><circle cx="194.4" cy="137.0" r="1.2"/><circle cx="149.7" cy="109.9" r="1.2"/><circle cx="264.5" cy="137.1" r="1.2"/><circle cx="155.9" cy="115.9" r="1.2"/><circle cx="182.6" cy="133.8" r="1.2"/><circle cx="218.2" cy="143.0" r="1.2"/><circle cx="245.9" cy="125.4" r="1.2"/><circle cx="234.7" cy="137.4" r="1.2"/><circle cx="237.6" cy="123.2" r="1.2"/><circle cx="241.0" cy="135.6" r="1.2"/><circle cx="238.4" cy="129.0" r="1.2"/><circle cx="202.2" cy="149.0" r="1.2"/><circle cx="212.2" cy="120.1" r="1.2"/><circle cx="240.8" cy="144.3" r="1.2"/><circle cx="217.0" cy="118.1" r="1.2"/><circle cx="196.1" cy="122.3" r="1.2"/><circle cx="232.6" cy="113.5" r="1.2"/><circle cx="187.7" cy="127.4" r="1.2"/><circle cx="186.9" cy="115.1" r="1.2"/><circle cx="241.3" cy="143.0" r="1.2"/><circle cx="202.4" cy="121.5" r="1.2"/><circle cx="159.9" cy="114.1" r="1.2"/><circle cx="154.6" cy="128.5" r="1.2"/><circle cx="213.5" cy="102.7" r="1.2"/><circle cx="248.9" cy="142.4" r="1.2"/><circle cx="192.6" cy="146.3" r="1.2"/><circle cx="211.3" cy="124.4" r="1.2"/><circle cx="259.2" cy="139.0" r="1.2"/><circle cx="207.7" cy="150.9" r="1.2"/><circle cx="204.9" cy="125.4" r="1.2"/><circle cx="227.5" cy="118.6" r="1.2"/><circle cx="183.3" cy="129.5" r="1.2"/><circle cx="182.4" cy="148.2" r="1.2"/><circle cx="226.3" cy="125.8" r="1.2"/><circle cx="148.4" cy="117.8" r="1.2"/><circle cx="189.1" cy="127.8" r="1.2"/><circle cx="212.5" cy="144.6" r="1.2"/><circle cx="265.2" cy="123.8" r="1.2"/><circle cx="194.4" cy="131.1" r="1.2"/><circle cx="206.6" cy="141.2" r="1.2"/><circle cx="158.0" cy="114.9" r="1.2"/><circle cx="267.1" cy="141.8" r="1.2"/><circle cx="204.2" cy="103.9" r="1.2"/><circle cx="255.8" cy="134.6" r="1.2"/><circle cx="254.9" cy="120.3" r="1.2"/><circle cx="156.1" cy="113.4" r="1.2"/><circle cx="204.1" cy="124.8" r="1.2"/><circle cx="160.4" cy="107.7" r="1.2"/><circle cx="220.1" cy="130.0" r="1.2"/><circle cx="182.7" cy="150.7" r="1.2"/><circle cx="190.5" cy="139.7" r="1.2"/><circle cx="176.4" cy="134.6" r="1.2"/><circle cx="248.7" cy="129.1" r="1.2"/><circle cx="225.2" cy="108.4" r="1.2"/><circle cx="202.2" cy="127.3" r="1.2"/><circle cx="170.9" cy="132.3" r="1.2"/><circle cx="206.8" cy="150.8" r="1.2"/><circle cx="212.6" cy="119.8" r="1.2"/><circle cx="205.5" cy="141.6" r="1.2"/><circle cx="217.8" cy="140.7" r="1.2"/><circle cx="239.0" cy="115.1" r="1.2"/><circle cx="231.6" cy="116.8" r="1.2"/><circle cx="157.9" cy="112.1" r="1.2"/><circle cx="148.4" cy="145.9" r="1.2"/><circle cx="213.6" cy="116.5" r="1.2"/><circle cx="195.7" cy="118.4" r="1.2"/><circle cx="213.7" cy="148.9" r="1.2"/><circle cx="194.4" cy="130.9" r="1.2"/><circle cx="260.7" cy="143.3" r="1.2"/><circle cx="177.5" cy="145.6" r="1.2"/><circle cx="245.1" cy="114.1" r="1.2"/><circle cx="216.3" cy="148.9" r="1.2"/><circle cx="201.9" cy="148.3" r="1.2"/><circle cx="167.8" cy="118.7" r="1.2"/><circle cx="232.0" cy="109.7" r="1.2"/><circle cx="176.7" cy="144.4" r="1.2"/><circle cx="200.4" cy="140.0" r="1.2"/><circle cx="167.9" cy="107.2" r="1.2"/><circle cx="183.4" cy="107.9" r="1.2"/><circle cx="210.8" cy="104.1" r="1.2"/><circle cx="207.1" cy="118.4" r="1.2"/><circle cx="189.4" cy="101.5" r="1.2"/><circle cx="151.6" cy="141.8" r="1.2"/><circle cx="182.4" cy="111.0" r="1.2"/><circle cx="160.8" cy="113.0" r="1.2"/><circle cx="224.7" cy="116.1" r="1.2"/><circle cx="156.0" cy="135.4" r="1.2"/><circle cx="147.5" cy="112.3" r="1.2"/><circle cx="194.8" cy="142.3" r="1.2"/><circle cx="182.6" cy="136.3" r="1.2"/><circle cx="185.9" cy="148.8" r="1.2"/><circle cx="163.1" cy="148.4" r="1.2"/><circle cx="203.2" cy="110.0" r="1.2"/><circle cx="196.1" cy="104.9" r="1.2"/><circle cx="230.4" cy="111.8" r="1.2"/><circle cx="256.4" cy="129.1" r="1.2"/><circle cx="184.7" cy="111.1" r="1.2"/><circle cx="217.1" cy="109.3" r="1.2"/><circle cx="204.3" cy="126.8" r="1.2"/><circle cx="171.5" cy="138.9" r="1.2"/><circle cx="187.0" cy="132.8" r="1.2"/><circle cx="211.6" cy="114.5" r="1.2"/><circle cx="187.6" cy="102.6" r="1.2"/><circle cx="158.9" cy="143.1" r="1.2"/><circle cx="178.3" cy="133.1" r="1.2"/><circle cx="149.7" cy="127.8" r="1.2"/><circle cx="183.8" cy="124.5" r="1.2"/><circle cx="175.1" cy="101.5" r="1.2"/><circle cx="177.0" cy="110.0" r="1.2"/><circle cx="152.0" cy="136.0" r="1.2"/><circle cx="173.1" cy="119.4" r="1.2"/><circle cx="257.7" cy="139.1" r="1.2"/><circle cx="254.2" cy="143.6" r="1.2"/><circle cx="152.8" cy="112.7" r="1.2"/><circle cx="139.0" cy="134.0" r="1.2"/><circle cx="224.6" cy="116.6" r="1.2"/><circle cx="190.7" cy="132.9" r="1.2"/><circle cx="229.4" cy="111.2" r="1.2"/><circle cx="249.3" cy="116.7" r="1.2"/><circle cx="219.9" cy="107.6" r="1.2"/><circle cx="150.6" cy="146.4" r="1.2"/><circle cx="234.1" cy="135.8" r="1.2"/><circle cx="156.9" cy="108.5" r="1.2"/><circle cx="175.9" cy="118.2" r="1.2"/><circle cx="140.3" cy="114.5" r="1.2"/><circle cx="221.2" cy="107.5" r="1.2"/><circle cx="248.3" cy="128.2" r="1.2"/><circle cx="231.7" cy="111.5" r="1.2"/><circle cx="193.7" cy="134.3" r="1.2"/><circle cx="247.6" cy="139.2" r="1.2"/><circle cx="250.3" cy="130.2" r="1.2"/><circle cx="150.0" cy="139.9" r="1.2"/><circle cx="163.4" cy="146.5" r="1.2"/><circle cx="228.8" cy="118.9" r="1.2"/><circle cx="235.9" cy="141.9" r="1.2"/><circle cx="173.0" cy="102.8" r="1.2"/><circle cx="260.6" cy="134.7" r="1.2"/><circle cx="234.7" cy="142.0" r="1.2"/><circle cx="219.8" cy="122.0" r="1.2"/><circle cx="142.3" cy="135.0" r="1.2"/><circle cx="192.8" cy="125.1" r="1.2"/><circle cx="229.9" cy="140.7" r="1.2"/><circle cx="170.3" cy="127.0" r="1.2"/><circle cx="265.9" cy="131.8" r="1.2"/><circle cx="208.4" cy="111.2" r="1.2"/><circle cx="143.0" cy="117.0" r="1.2"/><circle cx="190.6" cy="108.7" r="1.2"/><circle cx="176.9" cy="105.2" r="1.2"/><circle cx="230.4" cy="133.5" r="1.2"/><circle cx="167.1" cy="110.8" r="1.2"/><circle cx="204.6" cy="121.6" r="1.2"/><circle cx="175.4" cy="144.9" r="1.2"/><circle cx="154.2" cy="127.9" r="1.2"/><circle cx="180.0" cy="141.2" r="1.2"/><circle cx="209.0" cy="138.3" r="1.2"/><circle cx="157.8" cy="133.3" r="1.2"/><circle cx="215.8" cy="122.4" r="1.2"/><circle cx="238.4" cy="142.1" r="1.2"/><circle cx="150.5" cy="113.3" r="1.2"/><circle cx="183.7" cy="108.9" r="1.2"/><circle cx="143.1" cy="112.9" r="1.2"/><circle cx="161.6" cy="135.2" r="1.2"/><circle cx="195.5" cy="104.0" r="1.2"/><circle cx="178.8" cy="122.8" r="1.2"/><circle cx="184.0" cy="106.9" r="1.2"/><circle cx="238.0" cy="104.0" r="1.2"/><circle cx="252.0" cy="108.0" r="1.2"/><circle cx="262.0" cy="113.0" r="1.2"/><circle cx="229.0" cy="97.0" r="1.2"/><circle cx="265.0" cy="150.0" r="1.2"/><circle cx="246.0" cy="110.0" r="1.2"/><circle cx="257.4" cy="140.5" r="1.2"/><circle cx="186.5" cy="139.3" r="1.2"/><circle cx="256.5" cy="133.4" r="1.2"/><circle cx="188.5" cy="130.6" r="1.2"/><circle cx="213.9" cy="119.2" r="1.2"/><circle cx="251.7" cy="136.5" r="1.2"/><circle cx="230.9" cy="121.6" r="1.2"/><circle cx="199.2" cy="117.3" r="1.2"/><circle cx="182.2" cy="141.4" r="1.2"/><circle cx="245.5" cy="123.3" r="1.2"/><circle cx="194.5" cy="136.2" r="1.2"/><circle cx="193.1" cy="141.8" r="1.2"/><circle cx="244.8" cy="140.2" r="1.2"/><circle cx="205.5" cy="119.0" r="1.2"/><circle cx="244.4" cy="124.2" r="1.2"/><circle cx="208.7" cy="132.9" r="1.2"/><circle cx="208.8" cy="143.6" r="1.2"/><circle cx="224.2" cy="135.9" r="1.2"/><circle cx="243.9" cy="138.8" r="1.2"/><circle cx="218.6" cy="131.0" r="1.2"/><circle cx="192.3" cy="123.4" r="1.2"/><circle cx="225.3" cy="115.0" r="1.2"/><circle cx="233.7" cy="118.2" r="1.2"/><circle cx="214.3" cy="119.3" r="1.2"/><circle cx="241.4" cy="128.2" r="1.2"/><circle cx="202.1" cy="137.1" r="1.2"/><circle cx="220.1" cy="128.0" r="1.2"/><circle cx="206.4" cy="128.7" r="1.2"/><circle cx="232.0" cy="143.4" r="1.2"/><circle cx="203.1" cy="128.8" r="1.2"/><circle cx="223.9" cy="125.2" r="1.2"/><circle cx="195.2" cy="115.2" r="1.2"/><circle cx="205.2" cy="129.5" r="1.2"/><circle cx="255.0" cy="135.6" r="1.2"/><circle cx="232.8" cy="135.1" r="1.2"/><circle cx="203.2" cy="133.7" r="1.2"/><circle cx="254.3" cy="130.3" r="1.2"/><circle cx="230.5" cy="123.4" r="1.2"/><circle cx="206.8" cy="145.6" r="1.2"/><circle cx="182.2" cy="119.2" r="1.2"/><circle cx="232.9" cy="129.0" r="1.2"/><circle cx="186.6" cy="137.1" r="1.2"/><circle cx="209.0" cy="134.1" r="1.2"/><circle cx="212.5" cy="132.1" r="1.2"/><circle cx="224.1" cy="127.1" r="1.2"/><circle cx="188.9" cy="118.9" r="1.2"/><circle cx="249.4" cy="132.8" r="1.2"/><circle cx="188.8" cy="144.8" r="1.2"/><circle cx="199.8" cy="115.6" r="1.2"/><circle cx="221.4" cy="121.6" r="1.2"/><circle cx="218.2" cy="133.1" r="1.2"/><circle cx="197.7" cy="133.8" r="1.2"/><circle cx="188.8" cy="131.5" r="1.2"/><circle cx="225.9" cy="115.0" r="1.2"/><circle cx="211.8" cy="114.8" r="1.2"/><circle cx="214.3" cy="144.8" r="1.2"/><circle cx="222.9" cy="139.2" r="1.2"/><circle cx="239.0" cy="116.4" r="1.2"/><circle cx="257.3" cy="139.4" r="1.2"/><circle cx="188.0" cy="143.5" r="1.2"/><circle cx="210.6" cy="118.5" r="1.2"/><circle cx="254.9" cy="133.4" r="1.2"/><circle cx="240.4" cy="117.2" r="1.2"/><circle cx="198.5" cy="126.1" r="1.2"/><circle cx="181.2" cy="134.6" r="1.2"/><circle cx="196.6" cy="123.4" r="1.2"/><circle cx="235.2" cy="128.2" r="1.2"/><circle cx="249.3" cy="135.6" r="1.2"/><circle cx="248.0" cy="133.4" r="1.2"/><circle cx="193.1" cy="140.3" r="1.2"/><circle cx="188.9" cy="96.7" r="1.2"/><circle cx="212.6" cy="97.6" r="1.2"/><circle cx="173.6" cy="91.2" r="1.2"/><circle cx="216.6" cy="99.3" r="1.2"/><circle cx="203.4" cy="97.2" r="1.2"/><circle cx="172.9" cy="99.0" r="1.2"/><circle cx="212.3" cy="89.6" r="1.2"/><circle cx="178.5" cy="92.3" r="1.2"/><circle cx="223.7" cy="94.1" r="1.2"/><circle cx="173.0" cy="86.3" r="1.2"/><circle cx="172.7" cy="97.2" r="1.2"/><circle cx="178.0" cy="93.8" r="1.2"/><circle cx="185.3" cy="95.6" r="1.2"/><circle cx="191.7" cy="88.0" r="1.2"/><circle cx="226.3" cy="93.5" r="1.2"/><circle cx="213.3" cy="97.3" r="1.2"/><circle cx="189.0" cy="88.1" r="1.2"/><circle cx="200.1" cy="98.2" r="1.2"/><circle cx="177.8" cy="97.5" r="1.2"/><circle cx="212.6" cy="91.5" r="1.2"/><circle cx="192.0" cy="160.0" r="1.2"/><circle cx="195.0" cy="157.0" r="1.2"/><circle cx="200.0" cy="156.0" r="1.2"/><circle cx="205.0" cy="158.0" r="1.2"/><circle cx="208.0" cy="162.0" r="1.2"/><circle cx="206.0" cy="168.0" r="1.2"/><circle cx="200.0" cy="170.0" r="1.2"/><circle cx="194.0" cy="167.0" r="1.2"/><circle cx="197.0" cy="163.0" r="1.2"/><circle cx="203.0" cy="165.0" r="1.2"/><circle cx="210.0" cy="166.0" r="1.2"/><circle cx="212.0" cy="170.0" r="1.2"/><circle cx="196.0" cy="176.0" r="1.2"/><circle cx="190.0" cy="171.0" r="1.2"/><circle cx="227.8" cy="157.4" r="1.2"/><circle cx="244.3" cy="102.6" r="1.2"/><circle cx="260.6" cy="105.5" r="1.2"/><circle cx="195.0" cy="115.0" r="1.2"/><circle cx="295.6" cy="142.2" r="1.2"/><circle cx="209.7" cy="96.5" r="1.2"/><circle cx="265.7" cy="156.5" r="1.2"/><circle cx="223.9" cy="98.4" r="1.2"/><circle cx="185.0" cy="147.2" r="1.2"/></g><g fill="#a540b5"><circle cx="158.2" cy="131.5" r="1.2"/><circle cx="157.9" cy="133.8" r="1.2"/><circle cx="165.8" cy="146.6" r="1.2"/><circle cx="166.8" cy="140.4" r="1.2"/><circle cx="176.2" cy="140.6" r="1.2"/><circle cx="169.0" cy="135.9" r="1.2"/><circle cx="160.9" cy="124.3" r="1.2"/><circle cx="173.9" cy="143.8" r="1.2"/><circle cx="178.2" cy="137.5" r="1.2"/><circle cx="159.1" cy="140.2" r="1.2"/><circle cx="172.2" cy="131.8" r="1.2"/><circle cx="169.1" cy="126.6" r="1.2"/><circle cx="166.5" cy="128.4" r="1.2"/><circle cx="151.8" cy="126.1" r="1.2"/><circle cx="159.7" cy="147.6" r="1.2"/><circle cx="164.4" cy="127.1" r="1.2"/><circle cx="157.3" cy="122.7" r="1.2"/><circle cx="160.5" cy="119.5" r="1.2"/><circle cx="163.6" cy="129.7" r="1.2"/><circle cx="167.1" cy="125.0" r="1.2"/><circle cx="155.1" cy="117.2" r="1.2"/><circle cx="159.0" cy="125.2" r="1.2"/><circle cx="171.8" cy="133.2" r="1.2"/><circle cx="152.4" cy="120.9" r="1.2"/><circle cx="167.4" cy="147.6" r="1.2"/><circle cx="160.7" cy="140.6" r="1.2"/><circle cx="162.8" cy="143.7" r="1.2"/><circle cx="152.0" cy="131.0" r="1.2"/><circle cx="157.7" cy="115.8" r="1.2"/><circle cx="154.9" cy="123.8" r="1.2"/><circle cx="162.0" cy="121.6" r="1.2"/><circle cx="168.1" cy="143.5" r="1.2"/><circle cx="169.4" cy="121.5" r="1.2"/><circle cx="172.0" cy="146.8" r="1.2"/><circle cx="168.0" cy="117.6" r="1.2"/><circle cx="174.3" cy="143.9" r="1.2"/><circle cx="160.2" cy="119.5" r="1.2"/><circle cx="155.6" cy="132.7" r="1.2"/><circle cx="176.3" cy="136.1" r="1.2"/><circle cx="159.8" cy="139.7" r="1.2"/><circle cx="169.5" cy="128.4" r="1.2"/><circle cx="170.4" cy="126.1" r="1.2"/><circle cx="265.8" cy="141.0" r="1.2"/><circle cx="267.1" cy="141.0" r="1.2"/><circle cx="258.2" cy="142.7" r="1.2"/><circle cx="257.7" cy="138.7" r="1.2"/><circle cx="260.1" cy="140.1" r="1.2"/><circle cx="266.4" cy="138.5" r="1.2"/><circle cx="262.9" cy="139.9" r="1.2"/><circle cx="255.9" cy="137.5" r="1.2"/><circle cx="259.8" cy="141.2" r="1.2"/><circle cx="262.7" cy="141.4" r="1.2"/><circle cx="261.3" cy="138.7" r="1.2"/><circle cx="263.0" cy="137.3" r="1.2"/><circle cx="255.0" cy="139.2" r="1.2"/><circle cx="254.9" cy="138.8" r="1.2"/><circle cx="257.3" cy="138.5" r="1.2"/><circle cx="260.8" cy="137.7" r="1.2"/><circle cx="259.3" cy="136.2" r="1.2"/><circle cx="261.7" cy="137.5" r="1.2"/><circle cx="262.1" cy="135.6" r="1.2"/><circle cx="257.0" cy="140.7" r="1.2"/><circle cx="253.3" cy="139.4" r="1.2"/><circle cx="261.5" cy="140.3" r="1.2"/><circle cx="254.6" cy="140.6" r="1.2"/><circle cx="261.7" cy="137.3" r="1.2"/><circle cx="232.0" cy="101.0" r="1.2"/><circle cx="235.0" cy="103.0" r="1.2"/><circle cx="238.0" cy="104.0" r="1.2"/><circle cx="243.0" cy="100.0" r="1.2"/><circle cx="245.0" cy="104.0" r="1.2"/><circle cx="228.0" cy="108.0" r="1.2"/><circle cx="143.0" cy="117.0" r="1.2"/><circle cx="140.0" cy="122.0" r="1.2"/><circle cx="136.0" cy="129.0" r="1.2"/><circle cx="136.8" cy="175.5" r="1.2"/><circle cx="152.7" cy="161.7" r="1.2"/><circle cx="145.9" cy="191.1" r="1.2"/><circle cx="159.5" cy="171.8" r="1.2"/><circle cx="138.6" cy="184.3" r="1.2"/><circle cx="293.4" cy="86.8" r="1.2"/><circle cx="192.5" cy="156.7" r="1.2"/><circle cx="218.1" cy="132.8" r="1.2"/><circle cx="186.9" cy="154.6" r="1.2"/><circle cx="271.0" cy="134.1" r="1.2"/><circle cx="218.1" cy="116.9" r="1.2"/><circle cx="190.5" cy="155.9" r="1.2"/><circle cx="260.3" cy="88.1" r="1.2"/></g><g fill="#2e8c3c"><circle cx="124.2" cy="154.0" r="1.2"/><circle cx="78.9" cy="172.1" r="1.2"/><circle cx="111.1" cy="158.0" r="1.2"/><circle cx="136.1" cy="166.1" r="1.2"/><circle cx="123.0" cy="190.5" r="1.2"/><circle cx="125.6" cy="160.7" r="1.2"/><circle cx="138.9" cy="172.0" r="1.2"/><circle cx="116.3" cy="165.1" r="1.2"/><circle cx="127.0" cy="170.2" r="1.2"/><circle cx="96.0" cy="189.8" r="1.2"/><circle cx="82.0" cy="182.3" r="1.2"/><circle cx="79.3" cy="178.4" r="1.2"/><circle cx="101.1" cy="188.0" r="1.2"/><circle cx="78.9" cy="174.8" r="1.2"/><circle cx="101.6" cy="190.4" r="1.2"/><circle cx="136.4" cy="177.6" r="1.2"/><circle cx="89.6" cy="161.1" r="1.2"/><circle cx="92.1" cy="169.1" r="1.2"/><circle cx="90.0" cy="158.9" r="1.2"/><circle cx="124.3" cy="178.3" r="1.2"/><circle cx="89.1" cy="175.1" r="1.2"/><circle cx="131.5" cy="161.8" r="1.2"/><circle cx="123.9" cy="186.2" r="1.2"/><circle cx="93.4" cy="164.6" r="1.2"/><circle cx="106.6" cy="189.2" r="1.2"/><circle cx="85.5" cy="180.0" r="1.2"/><circle cx="113.8" cy="169.9" r="1.2"/><circle cx="112.6" cy="188.8" r="1.2"/><circle cx="88.6" cy="188.9" r="1.2"/><circle cx="98.4" cy="184.3" r="1.2"/><circle cx="131.1" cy="158.0" r="1.2"/><circle cx="84.8" cy="182.4" r="1.2"/><circle cx="119.4" cy="154.0" r="1.2"/><circle cx="97.1" cy="190.4" r="1.2"/><circle cx="121.6" cy="188.8" r="1.2"/><circle cx="90.2" cy="184.9" r="1.2"/><circle cx="119.8" cy="151.7" r="1.2"/><circle cx="107.8" cy="160.2" r="1.2"/><circle cx="103.0" cy="154.6" r="1.2"/><circle cx="95.6" cy="188.7" r="1.2"/><circle cx="82.8" cy="171.4" r="1.2"/><circle cx="83.8" cy="168.9" r="1.2"/><circle cx="86.6" cy="180.2" r="1.2"/><circle cx="84.6" cy="182.5" r="1.2"/><circle cx="107.5" cy="154.9" r="1.2"/><circle cx="98.0" cy="171.8" r="1.2"/><circle cx="134.7" cy="165.4" r="1.2"/><circle cx="132.4" cy="182.2" r="1.2"/><circle cx="92.7" cy="157.8" r="1.2"/><circle cx="77.8" cy="172.4" r="1.2"/><circle cx="101.5" cy="174.5" r="1.2"/><circle cx="119.7" cy="178.7" r="1.2"/><circle cx="110.4" cy="174.1" r="1.2"/><circle cx="119.9" cy="193.2" r="1.2"/><circle cx="131.8" cy="181.6" r="1.2"/><circle cx="101.0" cy="164.0" r="1.2"/><circle cx="102.2" cy="192.8" r="1.2"/><circle cx="100.2" cy="167.0" r="1.2"/><circle cx="101.6" cy="156.3" r="1.2"/><circle cx="114.5" cy="190.8" r="1.2"/><circle cx="91.6" cy="176.9" r="1.2"/><circle cx="99.5" cy="160.6" r="1.2"/><circle cx="129.8" cy="184.5" r="1.2"/><circle cx="120.1" cy="164.3" r="1.2"/><circle cx="117.0" cy="174.2" r="1.2"/><circle cx="130.5" cy="172.4" r="1.2"/><circle cx="113.5" cy="193.8" r="1.2"/><circle cx="90.2" cy="177.7" r="1.2"/><circle cx="123.3" cy="166.7" r="1.2"/><circle cx="121.3" cy="167.3" r="1.2"/><circle cx="109.2" cy="177.0" r="1.2"/><circle cx="119.0" cy="164.2" r="1.2"/><circle cx="115.9" cy="173.9" r="1.2"/><circle cx="89.5" cy="177.0" r="1.2"/><circle cx="92.2" cy="190.0" r="1.2"/><circle cx="105.8" cy="181.7" r="1.2"/><circle cx="108.9" cy="171.0" r="1.2"/><circle cx="135.3" cy="173.3" r="1.2"/><circle cx="109.1" cy="173.2" r="1.2"/><circle cx="127.9" cy="160.5" r="1.2"/><circle cx="86.2" cy="186.2" r="1.2"/><circle cx="104.9" cy="178.2" r="1.2"/><circle cx="128.8" cy="189.3" r="1.2"/><circle cx="131.4" cy="151.9" r="1.2"/><circle cx="99.8" cy="186.6" r="1.2"/><circle cx="128.2" cy="155.4" r="1.2"/><circle cx="85.0" cy="161.1" r="1.2"/><circle cx="81.7" cy="165.7" r="1.2"/><circle cx="127.2" cy="172.9" r="1.2"/><circle cx="104.4" cy="153.9" r="1.2"/><circle cx="120.2" cy="169.8" r="1.2"/><circle cx="106.1" cy="185.1" r="1.2"/><circle cx="124.3" cy="156.6" r="1.2"/><circle cx="119.2" cy="166.1" r="1.2"/><circle cx="108.8" cy="160.5" r="1.2"/><circle cx="99.1" cy="165.0" r="1.2"/><circle cx="88.1" cy="175.1" r="1.2"/><circle cx="121.7" cy="162.1" r="1.2"/><circle cx="96.1" cy="160.6" r="1.2"/><circle cx="129.2" cy="154.0" r="1.2"/><circle cx="116.3" cy="187.8" r="1.2"/><circle cx="88.1" cy="168.6" r="1.2"/><circle cx="126.5" cy="177.2" r="1.2"/><circle cx="103.8" cy="166.2" r="1.2"/><circle cx="121.3" cy="163.0" r="1.2"/><circle cx="101.5" cy="178.5" r="1.2"/><circle cx="127.7" cy="165.5" r="1.2"/><circle cx="100.0" cy="175.5" r="1.2"/><circle cx="135.1" cy="158.4" r="1.2"/><circle cx="138.1" cy="181.3" r="1.2"/><circle cx="99.2" cy="179.3" r="1.2"/><circle cx="124.1" cy="166.7" r="1.2"/><circle cx="109.2" cy="171.9" r="1.2"/><circle cx="133.6" cy="183.3" r="1.2"/><circle cx="76.7" cy="176.1" r="1.2"/><circle cx="105.1" cy="170.3" r="1.2"/><circle cx="129.6" cy="168.3" r="1.2"/><circle cx="105.8" cy="189.2" r="1.2"/><circle cx="103.6" cy="171.6" r="1.2"/><circle cx="108.3" cy="186.3" r="1.2"/><circle cx="118.6" cy="182.6" r="1.2"/><circle cx="119.2" cy="174.4" r="1.2"/><circle cx="125.0" cy="183.9" r="1.2"/><circle cx="124.0" cy="174.8" r="1.2"/><circle cx="78.6" cy="180.0" r="1.2"/><circle cx="121.2" cy="171.2" r="1.2"/><circle cx="78.6" cy="180.4" r="1.2"/><circle cx="102.2" cy="175.7" r="1.2"/><circle cx="131.7" cy="156.4" r="1.2"/><circle cx="96.7" cy="172.8" r="1.2"/><circle cx="92.9" cy="161.5" r="1.2"/><circle cx="95.3" cy="161.2" r="1.2"/><circle cx="130.8" cy="174.5" r="1.2"/><circle cx="108.2" cy="168.5" r="1.2"/><circle cx="131.3" cy="185.3" r="1.2"/><circle cx="130.7" cy="161.3" r="1.2"/><circle cx="109.9" cy="166.4" r="1.2"/><circle cx="105.2" cy="171.5" r="1.2"/><circle cx="112.9" cy="166.1" r="1.2"/><circle cx="127.1" cy="158.8" r="1.2"/><circle cx="134.8" cy="174.5" r="1.2"/><circle cx="109.7" cy="168.0" r="1.2"/><circle cx="111.7" cy="164.2" r="1.2"/><circle cx="92.8" cy="185.0" r="1.2"/><circle cx="93.9" cy="181.3" r="1.2"/><circle cx="127.2" cy="176.1" r="1.2"/><circle cx="104.6" cy="191.1" r="1.2"/><circle cx="103.9" cy="188.6" r="1.2"/><circle cx="78.8" cy="169.1" r="1.2"/><circle cx="116.6" cy="152.2" r="1.2"/><circle cx="131.1" cy="153.2" r="1.2"/><circle cx="113.8" cy="157.9" r="1.2"/><circle cx="135.0" cy="174.7" r="1.2"/><circle cx="127.0" cy="171.9" r="1.2"/><circle cx="118.8" cy="179.7" r="1.2"/><circle cx="94.2" cy="159.3" r="1.2"/><circle cx="129.5" cy="156.4" r="1.2"/><circle cx="134.7" cy="159.1" r="1.2"/><circle cx="126.0" cy="191.8" r="1.2"/><circle cx="102.0" cy="179.0" r="1.2"/><circle cx="91.7" cy="189.9" r="1.2"/><circle cx="119.6" cy="156.8" r="1.2"/><circle cx="78.7" cy="180.6" r="1.2"/><circle cx="94.1" cy="160.2" r="1.2"/><circle cx="112.8" cy="164.0" r="1.2"/><circle cx="111.4" cy="156.8" r="1.2"/><circle cx="134.3" cy="164.3" r="1.2"/><circle cx="129.7" cy="156.7" r="1.2"/><circle cx="99.7" cy="178.2" r="1.2"/><circle cx="89.5" cy="174.0" r="1.2"/><circle cx="81.1" cy="170.4" r="1.2"/><circle cx="122.3" cy="168.9" r="1.2"/><circle cx="119.1" cy="155.0" r="1.2"/><circle cx="128.9" cy="155.4" r="1.2"/><circle cx="136.1" cy="173.2" r="1.2"/><circle cx="93.9" cy="165.3" r="1.2"/><circle cx="123.8" cy="171.8" r="1.2"/><circle cx="135.4" cy="154.1" r="1.2"/><circle cx="106.5" cy="188.0" r="1.2"/><circle cx="113.9" cy="173.8" r="1.2"/><circle cx="92.6" cy="189.3" r="1.2"/><circle cx="130.0" cy="160.0" r="1.2"/><circle cx="113.9" cy="192.6" r="1.2"/><circle cx="97.4" cy="191.6" r="1.2"/><circle cx="117.7" cy="152.2" r="1.2"/><circle cx="96.7" cy="169.8" r="1.2"/><circle cx="91.1" cy="182.7" r="1.2"/><circle cx="86.6" cy="184.7" r="1.2"/><circle cx="111.3" cy="154.2" r="1.2"/><circle cx="110.9" cy="184.7" r="1.2"/><circle cx="113.7" cy="170.3" r="1.2"/><circle cx="77.2" cy="172.6" r="1.2"/><circle cx="81.3" cy="178.5" r="1.2"/><circle cx="83.6" cy="175.4" r="1.2"/><circle cx="97.9" cy="166.5" r="1.2"/><circle cx="118.1" cy="157.2" r="1.2"/><circle cx="96.6" cy="187.1" r="1.2"/><circle cx="131.8" cy="171.1" r="1.2"/><circle cx="132.1" cy="155.2" r="1.2"/><circle cx="107.2" cy="173.6" r="1.2"/><circle cx="82.6" cy="170.6" r="1.2"/><circle cx="85.7" cy="173.6" r="1.2"/><circle cx="107.9" cy="166.1" r="1.2"/><circle cx="87.9" cy="167.8" r="1.2"/><circle cx="90.6" cy="188.3" r="1.2"/><circle cx="107.6" cy="189.2" r="1.2"/><circle cx="106.7" cy="184.8" r="1.2"/><circle cx="112.1" cy="180.3" r="1.2"/><circle cx="89.9" cy="183.0" r="1.2"/><circle cx="85.0" cy="161.6" r="1.2"/><circle cx="108.7" cy="162.8" r="1.2"/><circle cx="132.9" cy="153.7" r="1.2"/><circle cx="112.6" cy="160.3" r="1.2"/><circle cx="113.7" cy="184.5" r="1.2"/><circle cx="121.2" cy="152.7" r="1.2"/><circle cx="108.3" cy="186.3" r="1.2"/><circle cx="110.8" cy="176.7" r="1.2"/><circle cx="99.4" cy="170.2" r="1.2"/><circle cx="111.2" cy="170.6" r="1.2"/><circle cx="111.5" cy="169.4" r="1.2"/><circle cx="109.3" cy="176.4" r="1.2"/><circle cx="116.4" cy="174.2" r="1.2"/><circle cx="104.5" cy="179.0" r="1.2"/><circle cx="108.4" cy="187.3" r="1.2"/><circle cx="105.6" cy="172.8" r="1.2"/><circle cx="105.1" cy="180.7" r="1.2"/><circle cx="110.1" cy="182.3" r="1.2"/><circle cx="101.3" cy="187.4" r="1.2"/><circle cx="120.5" cy="176.8" r="1.2"/><circle cx="98.2" cy="178.1" r="1.2"/><circle cx="110.4" cy="165.8" r="1.2"/><circle cx="108.1" cy="167.4" r="1.2"/><circle cx="111.5" cy="186.0" r="1.2"/><circle cx="115.0" cy="168.2" r="1.2"/><circle cx="117.9" cy="182.6" r="1.2"/><circle cx="104.7" cy="180.9" r="1.2"/><circle cx="119.2" cy="174.9" r="1.2"/><circle cx="107.9" cy="172.6" r="1.2"/><circle cx="114.4" cy="166.8" r="1.2"/><circle cx="118.0" cy="171.2" r="1.2"/><circle cx="114.2" cy="167.7" r="1.2"/><circle cx="100.2" cy="172.7" r="1.2"/><circle cx="113.6" cy="167.5" r="1.2"/><circle cx="113.3" cy="172.2" r="1.2"/><circle cx="117.9" cy="174.9" r="1.2"/><circle cx="112.5" cy="175.6" r="1.2"/><circle cx="120.2" cy="174.9" r="1.2"/><circle cx="107.8" cy="188.0" r="1.2"/><circle cx="108.7" cy="182.3" r="1.2"/><circle cx="101.4" cy="178.5" r="1.2"/><circle cx="94.7" cy="177.5" r="1.2"/><circle cx="103.3" cy="167.7" r="1.2"/><circle cx="98.4" cy="183.7" r="1.2"/><circle cx="111.1" cy="167.5" r="1.2"/><circle cx="119.9" cy="173.1" r="1.2"/><circle cx="145.7" cy="158.2" r="1.2"/><circle cx="151.7" cy="185.9" r="1.2"/><circle cx="144.2" cy="177.0" r="1.2"/><circle cx="156.1" cy="184.3" r="1.2"/><circle cx="136.1" cy="173.1" r="1.2"/><circle cx="136.4" cy="159.1" r="1.2"/><circle cx="155.5" cy="170.5" r="1.2"/><circle cx="150.5" cy="171.9" r="1.2"/><circle cx="144.1" cy="162.9" r="1.2"/><circle cx="144.5" cy="186.2" r="1.2"/><circle cx="150.9" cy="165.8" r="1.2"/><circle cx="138.1" cy="165.0" r="1.2"/><circle cx="152.8" cy="171.4" r="1.2"/><circle cx="151.9" cy="184.9" r="1.2"/><circle cx="138.9" cy="180.3" r="1.2"/><circle cx="137.0" cy="185.4" r="1.2"/><circle cx="140.4" cy="165.0" r="1.2"/><circle cx="159.0" cy="168.4" r="1.2"/><circle cx="141.4" cy="187.9" r="1.2"/><circle cx="150.6" cy="188.1" r="1.2"/><circle cx="145.5" cy="173.5" r="1.2"/><circle cx="158.9" cy="173.7" r="1.2"/><circle cx="140.2" cy="190.0" r="1.2"/><circle cx="146.9" cy="184.9" r="1.2"/><circle cx="142.0" cy="168.0" r="1.2"/><circle cx="138.4" cy="175.4" r="1.2"/><circle cx="156.7" cy="174.0" r="1.2"/><circle cx="145.0" cy="189.4" r="1.2"/><circle cx="157.5" cy="179.7" r="1.2"/><circle cx="137.8" cy="178.1" r="1.2"/><circle cx="146.7" cy="190.4" r="1.2"/><circle cx="144.7" cy="179.5" r="1.2"/><circle cx="151.2" cy="168.9" r="1.2"/><circle cx="148.5" cy="180.0" r="1.2"/><circle cx="157.8" cy="173.4" r="1.2"/><circle cx="137.4" cy="185.9" r="1.2"/><circle cx="152.4" cy="175.6" r="1.2"/><circle cx="146.7" cy="182.8" r="1.2"/><circle cx="213.0" cy="190.0" r="1.2"/><circle cx="173.2" cy="102.6" r="1.2"/><circle cx="141.9" cy="124.2" r="1.2"/><circle cx="255.0" cy="143.9" r="1.2"/><circle cx="278.8" cy="81.8" r="1.2"/><circle cx="130.0" cy="115.4" r="1.2"/><circle cx="251.8" cy="122.6" r="1.2"/><circle cx="193.3" cy="155.9" r="1.2"/><circle cx="228.0" cy="219.0" r="1.2"/><circle cx="232.0" cy="216.0" r="1.2"/><circle cx="250.0" cy="226.0" r="1.2"/><circle cx="268.0" cy="212.0" r="1.2"/><circle cx="282.0" cy="217.0" r="1.2"/></g><g fill="#2a2aa6"><circle cx="161.4" cy="181.2" r="1.2"/><circle cx="158.6" cy="179.1" r="1.2"/><circle cx="78.0" cy="169.0" r="1.2"/><circle cx="101.0" cy="152.0" r="1.2"/><circle cx="103.0" cy="155.0" r="1.2"/><circle cx="113.0" cy="161.0" r="1.2"/><circle cx="115.0" cy="160.0" r="1.2"/><circle cx="120.0" cy="153.0" r="1.2"/><circle cx="123.0" cy="152.0" r="1.2"/><circle cx="130.0" cy="155.0" r="1.2"/><circle cx="131.0" cy="164.0" r="1.2"/><circle cx="135.0" cy="161.0" r="1.2"/><circle cx="138.0" cy="160.0" r="1.2"/><circle cx="140.0" cy="168.0" r="1.2"/><circle cx="140.0" cy="182.0" r="1.2"/><circle cx="142.0" cy="187.0" r="1.2"/><circle cx="133.0" cy="190.0" r="1.2"/><circle cx="111.0" cy="187.0" r="1.2"/><circle cx="104.0" cy="149.0" r="1.2"/><circle cx="148.0" cy="170.0" r="1.2"/><circle cx="152.0" cy="182.0" r="1.2"/><circle cx="160.0" cy="182.0" r="1.2"/><circle cx="145.0" cy="160.0" r="1.2"/><circle cx="85.0" cy="152.0" r="1.2"/><circle cx="122.0" cy="177.0" r="1.2"/><circle cx="128.0" cy="172.0" r="1.2"/><circle cx="88.0" cy="180.0" r="1.2"/><circle cx="281.0" cy="112.7" r="1.2"/><circle cx="144.7" cy="153.3" r="1.2"/><circle cx="226.1" cy="106.3" r="1.2"/><circle cx="179.1" cy="102.4" r="1.2"/><circle cx="174.3" cy="157.7" r="1.2"/><circle cx="225.7" cy="108.8" r="1.2"/><circle cx="250.0" cy="221.0" r="1.2"/><circle cx="268.0" cy="209.0" r="1.2"/></g><g fill="#55c3dd"><circle cx="132.2" cy="189.5" r="1.2"/><circle cx="164.9" cy="158.9" r="1.2"/><circle cx="148.3" cy="191.0" r="1.2"/><circle cx="83.0" cy="162.0" r="1.2"/><circle cx="83.0" cy="172.0" r="1.2"/><circle cx="84.0" cy="174.0" r="1.2"/><circle cx="96.0" cy="183.0" r="1.2"/><circle cx="120.0" cy="186.0" r="1.2"/><circle cx="135.0" cy="147.0" r="1.2"/><circle cx="137.0" cy="147.0" r="1.2"/><circle cx="142.0" cy="158.0" r="1.2"/><circle cx="88.0" cy="148.0" r="1.2"/><circle cx="118.0" cy="145.0" r="1.2"/><circle cx="121.0" cy="143.0" r="1.2"/><circle cx="126.0" cy="147.0" r="1.2"/><circle cx="155.0" cy="155.0" r="1.2"/><circle cx="165.0" cy="166.0" r="1.2"/><circle cx="168.0" cy="175.0" r="1.2"/><circle cx="150.0" cy="178.0" r="1.2"/><circle cx="175.0" cy="172.0" r="1.2"/><circle cx="178.0" cy="175.0" r="1.2"/><circle cx="123.0" cy="131.0" r="1.2"/><circle cx="126.0" cy="128.0" r="1.2"/><circle cx="147.0" cy="128.0" r="1.2"/><circle cx="190.0" cy="165.0" r="1.2"/><circle cx="193.0" cy="170.0" r="1.2"/><circle cx="196.0" cy="172.0" r="1.2"/><circle cx="200.0" cy="163.0" r="1.2"/><circle cx="204.0" cy="160.0" r="1.2"/><circle cx="207.0" cy="171.0" r="1.2"/><circle cx="185.0" cy="170.0" r="1.2"/><circle cx="188.0" cy="173.0" r="1.2"/><circle cx="180.0" cy="172.0" r="1.2"/><circle cx="183.0" cy="176.0" r="1.2"/><circle cx="198.0" cy="167.0" r="1.2"/><circle cx="173.8" cy="118.2" r="1.2"/><circle cx="296.6" cy="149.7" r="1.2"/><circle cx="260.0" cy="124.4" r="1.2"/><circle cx="271.2" cy="127.7" r="1.2"/></g><g fill="#5f5fb5"><circle cx="188.0" cy="158.0" r="1.2"/><circle cx="191.0" cy="162.0" r="1.2"/><circle cx="206.0" cy="178.0" r="1.2"/><circle cx="210.0" cy="180.0" r="1.2"/><circle cx="213.0" cy="178.0" r="1.2"/><circle cx="200.0" cy="175.0" r="1.2"/><circle cx="180.0" cy="182.0" r="1.2"/><circle cx="185.0" cy="183.0" r="1.2"/><circle cx="175.0" cy="160.0" r="1.2"/><circle cx="178.0" cy="159.0" r="1.2"/><circle cx="210.0" cy="156.0" r="1.2"/><circle cx="215.0" cy="160.0" r="1.2"/><circle cx="203.0" cy="177.0" r="1.2"/></g><g fill="#e870b0"><circle cx="208.0" cy="180.0" r="1.2"/><circle cx="206.0" cy="183.0" r="1.2"/></g><g fill="#e6e6e6"><circle cx="115.0" cy="129.0" r="1.2"/><circle cx="108.0" cy="128.0" r="1.2"/><circle cx="118.0" cy="126.0" r="1.2"/></g><g fill="#555555"><circle cx="456.9" cy="133.6" r="1.2"/><circle cx="457.7" cy="133.7" r="1.2"/><circle cx="459.1" cy="126.3" r="1.2"/><circle cx="423.4" cy="135.6" r="1.2"/><circle cx="443.4" cy="128.0" r="1.2"/><circle cx="439.8" cy="139.2" r="1.2"/><circle cx="437.2" cy="141.0" r="1.2"/><circle cx="460.1" cy="126.4" r="1.2"/><circle cx="447.3" cy="131.6" r="1.2"/><circle cx="457.3" cy="133.5" r="1.2"/><circle cx="434.2" cy="136.9" r="1.2"/><circle cx="462.3" cy="133.9" r="1.2"/><circle cx="450.0" cy="127.9" r="1.2"/><circle cx="430.2" cy="143.0" r="1.2"/><circle cx="447.6" cy="126.2" r="1.2"/><circle cx="428.0" cy="133.3" r="1.2"/><circle cx="447.3" cy="137.2" r="1.2"/><circle cx="453.3" cy="133.0" r="1.2"/><circle cx="420.7" cy="133.6" r="1.2"/><circle cx="438.0" cy="138.0" r="1.2"/><circle cx="453.7" cy="128.7" r="1.2"/><circle cx="450.5" cy="138.4" r="1.2"/><circle cx="463.5" cy="136.4" r="1.2"/><circle cx="437.6" cy="140.4" r="1.2"/><circle cx="459.2" cy="137.1" r="1.2"/><circle cx="455.1" cy="124.3" r="1.2"/><circle cx="458.1" cy="124.3" r="1.2"/><circle cx="464.5" cy="128.2" r="1.2"/><circle cx="449.9" cy="143.3" r="1.2"/><circle cx="453.5" cy="127.5" r="1.2"/><circle cx="458.4" cy="127.0" r="1.2"/><circle cx="460.6" cy="135.5" r="1.2"/><circle cx="459.1" cy="134.3" r="1.2"/><circle cx="449.0" cy="136.3" r="1.2"/><circle cx="458.0" cy="125.2" r="1.2"/><circle cx="420.7" cy="135.2" r="1.2"/><circle cx="432.5" cy="132.0" r="1.2"/><circle cx="458.6" cy="133.3" r="1.2"/><circle cx="424.1" cy="137.5" r="1.2"/><circle cx="428.4" cy="132.7" r="1.2"/><circle cx="445.3" cy="131.1" r="1.2"/><circle cx="423.1" cy="131.4" r="1.2"/><circle cx="433.1" cy="139.9" r="1.2"/><circle cx="425.4" cy="136.5" r="1.2"/><circle cx="423.7" cy="138.4" r="1.2"/><circle cx="447.9" cy="134.7" r="1.2"/><circle cx="440.8" cy="132.3" r="1.2"/><circle cx="448.6" cy="137.4" r="1.2"/><circle cx="459.9" cy="138.9" r="1.2"/><circle cx="460.5" cy="132.8" r="1.2"/><circle cx="461.9" cy="127.4" r="1.2"/><circle cx="465.1" cy="133.0" r="1.2"/><circle cx="453.3" cy="128.9" r="1.2"/><circle cx="433.0" cy="131.0" r="1.2"/><circle cx="440.1" cy="144.6" r="1.2"/><circle cx="429.5" cy="142.6" r="1.2"/><circle cx="464.0" cy="130.6" r="1.2"/><circle cx="456.5" cy="140.2" r="1.2"/><circle cx="459.3" cy="130.2" r="1.2"/><circle cx="449.3" cy="131.4" r="1.2"/><circle cx="444.9" cy="144.3" r="1.2"/><circle cx="426.1" cy="134.9" r="1.2"/><circle cx="450.5" cy="135.1" r="1.2"/><circle cx="464.9" cy="132.3" r="1.2"/><circle cx="431.0" cy="138.9" r="1.2"/><circle cx="439.9" cy="138.3" r="1.2"/><circle cx="452.5" cy="139.5" r="1.2"/><circle cx="455.7" cy="128.8" r="1.2"/><circle cx="452.6" cy="128.0" r="1.2"/><circle cx="450.2" cy="136.2" r="1.2"/><circle cx="450.8" cy="136.4" r="1.2"/><circle cx="452.7" cy="130.0" r="1.2"/><circle cx="442.7" cy="144.3" r="1.2"/><circle cx="452.4" cy="129.4" r="1.2"/><circle cx="456.5" cy="127.3" r="1.2"/><circle cx="438.4" cy="138.3" r="1.2"/><circle cx="440.2" cy="139.2" r="1.2"/><circle cx="435.1" cy="141.4" r="1.2"/><circle cx="429.3" cy="141.9" r="1.2"/><circle cx="458.1" cy="137.9" r="1.2"/><circle cx="425.9" cy="137.7" r="1.2"/><circle cx="447.3" cy="137.7" r="1.2"/><circle cx="437.2" cy="137.5" r="1.2"/><circle cx="446.5" cy="128.3" r="1.2"/><circle cx="460.6" cy="126.3" r="1.2"/><circle cx="466.2" cy="131.3" r="1.2"/><circle cx="454.1" cy="126.5" r="1.2"/><circle cx="457.4" cy="128.9" r="1.2"/><circle cx="436.3" cy="134.7" r="1.2"/><circle cx="457.8" cy="129.6" r="1.2"/><circle cx="437.0" cy="139.9" r="1.2"/><circle cx="429.0" cy="131.8" r="1.2"/><circle cx="436.3" cy="137.3" r="1.2"/><circle cx="441.6" cy="142.2" r="1.2"/><circle cx="459.8" cy="128.5" r="1.2"/><circle cx="419.5" cy="132.9" r="1.2"/><circle cx="423.8" cy="133.4" r="1.2"/><circle cx="453.6" cy="125.5" r="1.2"/><circle cx="423.9" cy="133.8" r="1.2"/><circle cx="441.5" cy="143.6" r="1.2"/><circle cx="429.1" cy="139.5" r="1.2"/><circle cx="446.1" cy="142.2" r="1.2"/><circle cx="444.2" cy="128.7" r="1.2"/><circle cx="441.0" cy="139.2" r="1.2"/><circle cx="421.7" cy="133.2" r="1.2"/><circle cx="451.1" cy="131.3" r="1.2"/><circle cx="442.1" cy="127.4" r="1.2"/><circle cx="441.5" cy="139.4" r="1.2"/><circle cx="444.9" cy="128.5" r="1.2"/><circle cx="442.9" cy="136.5" r="1.2"/><circle cx="450.6" cy="126.6" r="1.2"/><circle cx="436.4" cy="142.9" r="1.2"/><circle cx="447.9" cy="142.9" r="1.2"/><circle cx="419.8" cy="132.9" r="1.2"/><circle cx="455.4" cy="136.0" r="1.2"/><circle cx="465.0" cy="132.1" r="1.2"/><circle cx="465.4" cy="128.5" r="1.2"/><circle cx="441.9" cy="134.5" r="1.2"/><circle cx="465.4" cy="134.1" r="1.2"/><circle cx="428.8" cy="141.4" r="1.2"/><circle cx="440.8" cy="128.4" r="1.2"/><circle cx="466.1" cy="130.4" r="1.2"/><circle cx="438.3" cy="130.9" r="1.2"/><circle cx="448.4" cy="129.0" r="1.2"/><circle cx="440.7" cy="135.6" r="1.2"/><circle cx="453.6" cy="126.5" r="1.2"/><circle cx="424.9" cy="134.7" r="1.2"/><circle cx="447.1" cy="142.6" r="1.2"/><circle cx="426.4" cy="136.1" r="1.2"/><circle cx="440.6" cy="132.3" r="1.2"/><circle cx="462.4" cy="137.7" r="1.2"/><circle cx="461.5" cy="132.5" r="1.2"/><circle cx="444.5" cy="141.7" r="1.2"/><circle cx="458.4" cy="137.5" r="1.2"/><circle cx="430.2" cy="137.6" r="1.2"/></g><g fill="#a6cc3a"><circle cx="352.1" cy="155.1" r="1.2"/><circle cx="359.5" cy="151.8" r="1.2"/><circle cx="342.4" cy="153.5" r="1.2"/><circle cx="344.1" cy="146.9" r="1.2"/><circle cx="346.8" cy="151.1" r="1.2"/><circle cx="354.3" cy="144.6" r="1.2"/><circle cx="355.8" cy="152.6" r="1.2"/><circle cx="349.3" cy="153.2" r="1.2"/><circle cx="349.4" cy="153.3" r="1.2"/><circle cx="355.0" cy="152.9" r="1.2"/><circle cx="356.9" cy="146.9" r="1.2"/><circle cx="348.3" cy="157.4" r="1.2"/><circle cx="343.0" cy="149.4" r="1.2"/><circle cx="343.6" cy="154.2" r="1.2"/><circle cx="346.6" cy="153.1" r="1.2"/><circle cx="356.4" cy="145.3" r="1.2"/><circle cx="341.3" cy="149.4" r="1.2"/><circle cx="352.0" cy="157.2" r="1.2"/><circle cx="351.8" cy="148.7" r="1.2"/><circle cx="354.9" cy="149.8" r="1.2"/><circle cx="342.2" cy="150.5" r="1.2"/><circle cx="341.9" cy="148.9" r="1.2"/><circle cx="361.1" cy="154.6" r="1.2"/><circle cx="358.1" cy="152.8" r="1.2"/><circle cx="353.2" cy="153.7" r="1.2"/><circle cx="361.2" cy="146.3" r="1.2"/><circle cx="356.4" cy="147.9" r="1.2"/><circle cx="344.1" cy="155.4" r="1.2"/><circle cx="352.4" cy="155.8" r="1.2"/><circle cx="359.0" cy="152.0" r="1.2"/><circle cx="350.8" cy="154.0" r="1.2"/><circle cx="343.5" cy="147.3" r="1.2"/><circle cx="341.6" cy="148.4" r="1.2"/><circle cx="350.5" cy="148.1" r="1.2"/><circle cx="348.0" cy="150.4" r="1.2"/><circle cx="340.2" cy="152.5" r="1.2"/><circle cx="354.7" cy="147.3" r="1.2"/><circle cx="357.0" cy="154.1" r="1.2"/><circle cx="346.2" cy="150.6" r="1.2"/><circle cx="342.5" cy="157.0" r="1.2"/><circle cx="341.7" cy="153.5" r="1.2"/><circle cx="347.2" cy="153.9" r="1.2"/><circle cx="343.5" cy="155.1" r="1.2"/><circle cx="357.2" cy="144.9" r="1.2"/><circle cx="352.1" cy="146.3" r="1.2"/><circle cx="355.0" cy="155.2" r="1.2"/><circle cx="357.0" cy="146.9" r="1.2"/><circle cx="340.2" cy="153.1" r="1.2"/><circle cx="351.6" cy="145.5" r="1.2"/><circle cx="342.6" cy="151.9" r="1.2"/><circle cx="340.6" cy="152.7" r="1.2"/><circle cx="343.8" cy="147.2" r="1.2"/><circle cx="348.2" cy="151.2" r="1.2"/><circle cx="355.4" cy="146.7" r="1.2"/><circle cx="345.0" cy="152.8" r="1.2"/><circle cx="327.0" cy="155.0" r="1.2"/><circle cx="329.0" cy="157.0" r="1.2"/><circle cx="331.0" cy="157.5" r="1.2"/><circle cx="336.0" cy="157.0" r="1.2"/></g><g fill="#8b2335"><circle cx="346.0" cy="152.0" r="1.2"/><circle cx="349.0" cy="150.0" r="1.2"/><circle cx="352.0" cy="148.0" r="1.2"/><circle cx="355.0" cy="153.0" r="1.2"/><circle cx="347.0" cy="155.0" r="1.2"/></g><g fill="#edbf29"><circle cx="285.0" cy="235.5" r="1.2"/><circle cx="259.2" cy="237.2" r="1.2"/><circle cx="255.7" cy="219.5" r="1.2"/><circle cx="253.4" cy="241.0" r="1.2"/><circle cx="294.2" cy="239.1" r="1.2"/><circle cx="259.1" cy="225.0" r="1.2"/><circle cx="279.4" cy="217.1" r="1.2"/><circle cx="241.3" cy="232.0" r="1.2"/><circle cx="297.7" cy="230.2" r="1.2"/><circle cx="272.5" cy="232.2" r="1.2"/><circle cx="262.7" cy="239.1" r="1.2"/><circle cx="274.0" cy="241.1" r="1.2"/><circle cx="264.3" cy="230.9" r="1.2"/><circle cx="255.2" cy="237.4" r="1.2"/><circle cx="253.1" cy="225.1" r="1.2"/><circle cx="270.4" cy="238.9" r="1.2"/><circle cx="290.4" cy="227.0" r="1.2"/><circle cx="268.4" cy="246.5" r="1.2"/><circle cx="301.5" cy="235.7" r="1.2"/><circle cx="245.1" cy="230.0" r="1.2"/><circle cx="281.3" cy="223.8" r="1.2"/><circle cx="269.7" cy="235.7" r="1.2"/><circle cx="289.0" cy="241.0" r="1.2"/><circle cx="267.7" cy="217.0" r="1.2"/><circle cx="264.8" cy="217.3" r="1.2"/><circle cx="257.6" cy="240.9" r="1.2"/><circle cx="274.2" cy="243.2" r="1.2"/><circle cx="290.0" cy="228.9" r="1.2"/><circle cx="261.0" cy="218.3" r="1.2"/><circle cx="246.0" cy="223.1" r="1.2"/><circle cx="299.5" cy="230.5" r="1.2"/><circle cx="303.0" cy="235.1" r="1.2"/><circle cx="257.6" cy="230.3" r="1.2"/><circle cx="286.7" cy="239.7" r="1.2"/><circle cx="293.3" cy="225.9" r="1.2"/><circle cx="254.9" cy="222.9" r="1.2"/><circle cx="248.1" cy="243.9" r="1.2"/><circle cx="259.8" cy="220.0" r="1.2"/><circle cx="288.6" cy="226.0" r="1.2"/><circle cx="250.8" cy="228.6" r="1.2"/><circle cx="289.9" cy="235.2" r="1.2"/><circle cx="260.2" cy="243.7" r="1.2"/><circle cx="293.7" cy="223.3" r="1.2"/><circle cx="262.9" cy="227.1" r="1.2"/><circle cx="262.0" cy="227.2" r="1.2"/><circle cx="299.8" cy="228.4" r="1.2"/><circle cx="289.4" cy="222.6" r="1.2"/><circle cx="255.2" cy="237.0" r="1.2"/><circle cx="263.9" cy="243.4" r="1.2"/><circle cx="247.1" cy="232.9" r="1.2"/><circle cx="260.9" cy="242.7" r="1.2"/><circle cx="261.5" cy="243.5" r="1.2"/><circle cx="288.6" cy="237.7" r="1.2"/><circle cx="282.4" cy="215.7" r="1.2"/><circle cx="297.2" cy="233.2" r="1.2"/><circle cx="269.0" cy="225.9" r="1.2"/><circle cx="261.1" cy="222.7" r="1.2"/><circle cx="244.8" cy="225.4" r="1.2"/><circle cx="242.6" cy="239.9" r="1.2"/><circle cx="251.5" cy="230.2" r="1.2"/><circle cx="265.3" cy="242.1" r="1.2"/><circle cx="270.0" cy="245.5" r="1.2"/><circle cx="287.9" cy="224.9" r="1.2"/><circle cx="297.4" cy="234.1" r="1.2"/><circle cx="245.2" cy="234.6" r="1.2"/><circle cx="294.4" cy="232.1" r="1.2"/><circle cx="270.9" cy="228.6" r="1.2"/><circle cx="297.9" cy="237.3" r="1.2"/><circle cx="252.1" cy="226.7" r="1.2"/><circle cx="262.7" cy="247.6" r="1.2"/><circle cx="285.3" cy="218.4" r="1.2"/><circle cx="278.2" cy="229.1" r="1.2"/><circle cx="286.8" cy="229.0" r="1.2"/><circle cx="244.3" cy="232.3" r="1.2"/><circle cx="262.2" cy="221.8" r="1.2"/><circle cx="288.6" cy="242.1" r="1.2"/><circle cx="252.9" cy="244.9" r="1.2"/><circle cx="305.5" cy="229.2" r="1.2"/><circle cx="263.9" cy="238.8" r="1.2"/><circle cx="258.5" cy="225.5" r="1.2"/><circle cx="287.8" cy="220.5" r="1.2"/><circle cx="275.2" cy="231.5" r="1.2"/><circle cx="283.5" cy="219.0" r="1.2"/><circle cx="276.2" cy="241.8" r="1.2"/><circle cx="250.5" cy="245.9" r="1.2"/><circle cx="275.5" cy="240.6" r="1.2"/><circle cx="297.1" cy="226.7" r="1.2"/><circle cx="239.6" cy="231.6" r="1.2"/><circle cx="302.9" cy="231.9" r="1.2"/><circle cx="301.4" cy="233.6" r="1.2"/><circle cx="247.8" cy="236.1" r="1.2"/><circle cx="292.6" cy="228.8" r="1.2"/><circle cx="278.9" cy="223.1" r="1.2"/><circle cx="256.8" cy="228.7" r="1.2"/><circle cx="272.9" cy="230.4" r="1.2"/><circle cx="261.1" cy="239.1" r="1.2"/><circle cx="288.9" cy="222.3" r="1.2"/><circle cx="255.4" cy="232.1" r="1.2"/><circle cx="249.9" cy="235.1" r="1.2"/><circle cx="277.8" cy="239.2" r="1.2"/><circle cx="288.9" cy="238.9" r="1.2"/><circle cx="286.3" cy="223.5" r="1.2"/><circle cx="268.1" cy="217.0" r="1.2"/><circle cx="242.7" cy="241.9" r="1.2"/><circle cx="284.1" cy="219.0" r="1.2"/><circle cx="269.3" cy="236.4" r="1.2"/><circle cx="290.1" cy="222.6" r="1.2"/><circle cx="265.9" cy="235.6" r="1.2"/><circle cx="258.6" cy="219.7" r="1.2"/><circle cx="251.1" cy="225.1" r="1.2"/><circle cx="272.3" cy="220.4" r="1.2"/><circle cx="270.6" cy="229.4" r="1.2"/><circle cx="304.2" cy="231.0" r="1.2"/><circle cx="302.2" cy="230.5" r="1.2"/><circle cx="251.5" cy="234.7" r="1.2"/><circle cx="243.0" cy="238.5" r="1.2"/><circle cx="303.8" cy="228.1" r="1.2"/><circle cx="262.1" cy="228.9" r="1.2"/><circle cx="261.9" cy="238.2" r="1.2"/><circle cx="264.7" cy="219.3" r="1.2"/><circle cx="296.8" cy="234.0" r="1.2"/><circle cx="287.5" cy="226.4" r="1.2"/><circle cx="265.3" cy="229.1" r="1.2"/><circle cx="258.3" cy="233.4" r="1.2"/><circle cx="283.1" cy="239.7" r="1.2"/><circle cx="262.9" cy="243.8" r="1.2"/><circle cx="291.8" cy="234.7" r="1.2"/><circle cx="284.1" cy="225.9" r="1.2"/><circle cx="302.2" cy="233.2" r="1.2"/><circle cx="265.4" cy="220.4" r="1.2"/><circle cx="260.0" cy="230.8" r="1.2"/><circle cx="271.7" cy="226.7" r="1.2"/><circle cx="298.9" cy="226.2" r="1.2"/><circle cx="274.2" cy="246.5" r="1.2"/><circle cx="281.5" cy="230.7" r="1.2"/><circle cx="260.6" cy="227.5" r="1.2"/><circle cx="279.4" cy="241.5" r="1.2"/><circle cx="255.7" cy="227.0" r="1.2"/><circle cx="264.4" cy="226.7" r="1.2"/><circle cx="300.1" cy="232.9" r="1.2"/><circle cx="256.8" cy="225.6" r="1.2"/><circle cx="293.9" cy="219.6" r="1.2"/><circle cx="255.9" cy="239.7" r="1.2"/><circle cx="302.4" cy="233.3" r="1.2"/><circle cx="300.9" cy="229.2" r="1.2"/><circle cx="251.1" cy="240.2" r="1.2"/><circle cx="296.4" cy="227.5" r="1.2"/><circle cx="289.2" cy="234.9" r="1.2"/><circle cx="280.8" cy="217.9" r="1.2"/><circle cx="279.4" cy="237.5" r="1.2"/><circle cx="304.6" cy="229.2" r="1.2"/><circle cx="264.6" cy="222.9" r="1.2"/><circle cx="248.4" cy="226.3" r="1.2"/><circle cx="274.1" cy="237.8" r="1.2"/><circle cx="240.3" cy="229.4" r="1.2"/><circle cx="291.8" cy="234.1" r="1.2"/><circle cx="268.7" cy="244.8" r="1.2"/><circle cx="278.9" cy="225.8" r="1.2"/><circle cx="264.9" cy="247.0" r="1.2"/><circle cx="276.1" cy="219.0" r="1.2"/><circle cx="249.9" cy="227.4" r="1.2"/><circle cx="292.3" cy="228.5" r="1.2"/><circle cx="283.5" cy="233.9" r="1.2"/><circle cx="287.5" cy="228.3" r="1.2"/><circle cx="301.2" cy="235.5" r="1.2"/><circle cx="259.5" cy="227.2" r="1.2"/><circle cx="256.3" cy="245.6" r="1.2"/><circle cx="284.8" cy="225.1" r="1.2"/><circle cx="289.5" cy="223.2" r="1.2"/><circle cx="279.5" cy="219.5" r="1.2"/><circle cx="296.3" cy="231.1" r="1.2"/><circle cx="256.7" cy="246.3" r="1.2"/><circle cx="289.5" cy="219.2" r="1.2"/><circle cx="289.8" cy="234.1" r="1.2"/><circle cx="299.7" cy="234.5" r="1.2"/><circle cx="267.1" cy="246.7" r="1.2"/><circle cx="243.9" cy="241.2" r="1.2"/><circle cx="245.0" cy="223.7" r="1.2"/><circle cx="268.0" cy="239.4" r="1.2"/><circle cx="255.4" cy="239.6" r="1.2"/><circle cx="282.1" cy="217.4" r="1.2"/><circle cx="271.6" cy="239.3" r="1.2"/><circle cx="252.6" cy="236.9" r="1.2"/><circle cx="256.9" cy="227.0" r="1.2"/><circle cx="305.9" cy="228.9" r="1.2"/><circle cx="276.9" cy="242.3" r="1.2"/><circle cx="289.6" cy="230.0" r="1.2"/><circle cx="296.7" cy="228.0" r="1.2"/><circle cx="302.6" cy="230.5" r="1.2"/><circle cx="246.1" cy="240.2" r="1.2"/><circle cx="247.9" cy="237.8" r="1.2"/><circle cx="274.8" cy="239.9" r="1.2"/><circle cx="246.9" cy="236.3" r="1.2"/><circle cx="263.6" cy="222.7" r="1.2"/><circle cx="270.5" cy="217.0" r="1.2"/><circle cx="240.3" cy="230.3" r="1.2"/><circle cx="269.9" cy="239.2" r="1.2"/><circle cx="287.6" cy="226.0" r="1.2"/><circle cx="247.3" cy="242.5" r="1.2"/><circle cx="272.0" cy="225.8" r="1.2"/><circle cx="270.2" cy="241.5" r="1.2"/><circle cx="255.0" cy="245.9" r="1.2"/><circle cx="253.0" cy="245.7" r="1.2"/><circle cx="290.4" cy="236.1" r="1.2"/><circle cx="274.2" cy="243.9" r="1.2"/><circle cx="268.2" cy="217.4" r="1.2"/><circle cx="284.4" cy="240.1" r="1.2"/><circle cx="253.8" cy="230.2" r="1.2"/><circle cx="284.5" cy="233.4" r="1.2"/><circle cx="265.5" cy="219.9" r="1.2"/><circle cx="247.3" cy="230.5" r="1.2"/><circle cx="271.5" cy="223.4" r="1.2"/><circle cx="263.0" cy="233.4" r="1.2"/><circle cx="289.8" cy="234.6" r="1.2"/><circle cx="249.0" cy="245.0" r="1.2"/><circle cx="263.0" cy="247.6" r="1.2"/><circle cx="264.2" cy="233.2" r="1.2"/><circle cx="257.3" cy="236.0" r="1.2"/><circle cx="284.6" cy="226.7" r="1.2"/><circle cx="302.6" cy="236.2" r="1.2"/><circle cx="274.9" cy="244.2" r="1.2"/><circle cx="283.6" cy="226.6" r="1.2"/><circle cx="279.1" cy="224.5" r="1.2"/><circle cx="238.7" cy="233.4" r="1.2"/><circle cx="252.0" cy="231.8" r="1.2"/><circle cx="280.1" cy="237.6" r="1.2"/><circle cx="260.8" cy="225.5" r="1.2"/><circle cx="284.1" cy="228.0" r="1.2"/><circle cx="261.4" cy="225.2" r="1.2"/><circle cx="272.0" cy="232.0" r="1.2"/><circle cx="252.1" cy="235.9" r="1.2"/><circle cx="262.8" cy="238.3" r="1.2"/><circle cx="279.6" cy="232.3" r="1.2"/><circle cx="279.3" cy="228.0" r="1.2"/><circle cx="268.9" cy="231.1" r="1.2"/><circle cx="270.2" cy="235.6" r="1.2"/><circle cx="270.8" cy="229.5" r="1.2"/><circle cx="276.5" cy="230.1" r="1.2"/><circle cx="277.4" cy="227.6" r="1.2"/><circle cx="260.1" cy="239.9" r="1.2"/><circle cx="255.6" cy="236.2" r="1.2"/><circle cx="283.0" cy="235.4" r="1.2"/><circle cx="273.9" cy="231.6" r="1.2"/><circle cx="267.8" cy="227.3" r="1.2"/><circle cx="274.5" cy="236.4" r="1.2"/><circle cx="258.8" cy="224.5" r="1.2"/><circle cx="285.9" cy="231.7" r="1.2"/><circle cx="257.6" cy="226.9" r="1.2"/><circle cx="276.1" cy="238.5" r="1.2"/><circle cx="257.8" cy="230.3" r="1.2"/><circle cx="275.4" cy="229.3" r="1.2"/><circle cx="272.5" cy="234.8" r="1.2"/><circle cx="276.2" cy="237.6" r="1.2"/><circle cx="270.3" cy="228.6" r="1.2"/><circle cx="254.4" cy="231.9" r="1.2"/></g><g fill="#f4b4cb"><circle cx="246.0" cy="212.0" r="1.2"/><circle cx="250.0" cy="210.0" r="1.2"/><circle cx="255.0" cy="213.0" r="1.2"/><circle cx="258.0" cy="209.0" r="1.2"/><circle cx="262.0" cy="211.0" r="1.2"/><circle cx="266.0" cy="215.0" r="1.2"/><circle cx="252.0" cy="218.0" r="1.2"/><circle cx="260.0" cy="216.0" r="1.2"/><circle cx="270.0" cy="212.0" r="1.2"/><circle cx="276.0" cy="214.0" r="1.2"/><circle cx="249.0" cy="222.0" r="1.2"/><circle cx="253.0" cy="207.0" r="1.2"/><circle cx="244.0" cy="216.0" r="1.2"/><circle cx="241.0" cy="240.0" r="1.2"/><circle cx="243.0" cy="243.0" r="1.2"/><circle cx="247.0" cy="244.0" r="1.2"/><circle cx="250.0" cy="242.0" r="1.2"/><circle cx="239.0" cy="238.0" r="1.2"/><circle cx="258.0" cy="247.0" r="1.2"/><circle cx="263.0" cy="250.0" r="1.2"/></g><text x="7" y="14.6" font-size="11" font-weight="bold" fill="#111" stroke="#111" stroke-width="0.15">A</text><text x="7" y="280" font-size="11" font-weight="bold" fill="#111" stroke="#111" stroke-width="0.15">B</text><text x="208.5" y="280.5" font-size="11" font-weight="bold" fill="#111" stroke="#111" stroke-width="0.15">C</text><text x="349.5" y="279.8" font-size="11" font-weight="bold" fill="#111" stroke="#111" stroke-width="0.15">D</text><text x="7.5" y="489.5" font-size="11" font-weight="bold" fill="#111" stroke="#111" stroke-width="0.15">E</text><text x="198.8" y="22.90" font-size="8.8" fill="#3b78c3" stroke="#3b78c3" stroke-width="0.2" textLength="28.1" lengthAdjust="spacingAndGlyphs">KMT2A</text><text x="180" y="38.10" font-size="8.8" fill="#bdbdbd" stroke="#bdbdbd" stroke-width="0.2" textLength="43.8" lengthAdjust="spacingAndGlyphs">KMT2A-like</text><text x="210.5" y="50.10" font-size="8.8" fill="#66b866" stroke="#66b866" stroke-width="0.2" textLength="41.5" lengthAdjust="spacingAndGlyphs">BCL2/MYC</text><text x="95.7" y="55.80" font-size="8.8" fill="#ec4530" stroke="#ec4530" stroke-width="0.2" textLength="42" lengthAdjust="spacingAndGlyphs">PAX5 P80R</text><text x="165" y="61.85" font-size="8.8" fill="#f59c2a" stroke="#f59c2a" stroke-width="0.2" textLength="30.5" lengthAdjust="spacingAndGlyphs">PAX5alt</text><text x="273" y="56.85" font-size="8.8" fill="#111" stroke="#111" stroke-width="0.2" textLength="29" lengthAdjust="spacingAndGlyphs">NUTM1</text><text x="330" y="47.35" font-size="8.8" fill="#52b596" stroke="#52b596" stroke-width="0.2" textLength="28.3" lengthAdjust="spacingAndGlyphs">MEF2D</text><text x="372.5" y="69.35" font-size="8.8" fill="#8a6327" stroke="#8a6327" stroke-width="0.2" textLength="45" lengthAdjust="spacingAndGlyphs">TCF3::PBX1</text><text x="224.5" y="77.60" font-size="8.8" fill="#4f86d0" stroke="#4f86d0" stroke-width="0.2" textLength="62.5" lengthAdjust="spacingAndGlyphs">Low hypodiploid</text><text x="320" y="84.35" font-size="8.8" fill="#6cbde8" stroke="#6cbde8" stroke-width="0.2" textLength="15" lengthAdjust="spacingAndGlyphs">HLF</text><text x="335" y="96.35" font-size="8.8" fill="#bdbb2e" stroke="#bdbb2e" stroke-width="0.2" textLength="50" lengthAdjust="spacingAndGlyphs">IKZF1 N159Y</text><text x="292.5" y="102.60" font-size="8.8" fill="#bbbbbb" stroke="#bbbbbb" stroke-width="0.2" textLength="22" lengthAdjust="spacingAndGlyphs">Other</text><text x="301.2" y="125.20" font-size="8.8" fill="#e8141c" stroke="#e8141c" stroke-width="0.2" textLength="39.3" lengthAdjust="spacingAndGlyphs">CDX2/UBTF</text><text x="87" y="116.85" font-size="8.8" fill="#f0604a" stroke="#f0604a" stroke-width="0.2" textLength="24.25" lengthAdjust="spacingAndGlyphs">CRLF2</text><text x="78.25" y="128.60" font-size="8.8" fill="#f0604a" stroke="#f0604a" stroke-width="0.2" textLength="42.5" lengthAdjust="spacingAndGlyphs">non-Ph-like</text><text x="65.75" y="143.85" font-size="8.8" fill="#4b4ea2" stroke="#4b4ea2" stroke-width="0.2" textLength="48.75" lengthAdjust="spacingAndGlyphs">Near haploid</text><text x="234.5" y="155.10" font-size="8.8" fill="#7b1b1f" stroke="#7b1b1f" stroke-width="0.2" textLength="25" lengthAdjust="spacingAndGlyphs">Ph-like</text><text x="273" y="155.10" font-size="8.8" fill="#a540b5" stroke="#a540b5" stroke-width="0.2" textLength="9.5" lengthAdjust="spacingAndGlyphs">Ph</text><text x="430.3" y="156.35" font-size="8.8" fill="#777" stroke="#777" stroke-width="0.2" textLength="21.6" lengthAdjust="spacingAndGlyphs">DUX4</text><text x="365.8" y="153.90" font-size="8.8" fill="#a6cc3a" stroke="#a6cc3a" stroke-width="0.2" textLength="30" lengthAdjust="spacingAndGlyphs">ZNF384</text><text x="326" y="170.30" font-size="8.8" fill="#8b2335" stroke="#8b2335" stroke-width="0.2" textLength="45" lengthAdjust="spacingAndGlyphs">ZNF384-like</text><text x="214.5" y="183.10" font-size="8.8" fill="#6a6ab8" stroke="#6a6ab8" stroke-width="0.2" textLength="30" lengthAdjust="spacingAndGlyphs">iAMP21</text><text x="68.75" y="205.60" font-size="8.8" fill="#3a973a" stroke="#3a973a" stroke-width="0.2" textLength="68.75" lengthAdjust="spacingAndGlyphs">High hyperdiploid</text><text x="154.5" y="199.85" font-size="8.8" fill="#55c3dd" stroke="#55c3dd" stroke-width="0.2" textLength="65" lengthAdjust="spacingAndGlyphs">Low hyperdiploid</text><text x="292" y="217.35" font-size="8.8" fill="#e8b828" stroke="#e8b828" stroke-width="0.2" textLength="51" lengthAdjust="spacingAndGlyphs">ETV6::RUNX1</text><text x="165" y="250.10" font-size="8.8" fill="#f4b4cb" stroke="#f4b4cb" stroke-width="0.2" textLength="67.5" lengthAdjust="spacingAndGlyphs">ETV6::RUNX1-like</text><path fill="#0a0a0a" d="M79,399 L83,396 L88,393.5 L93,391.5 L98,390.3 L103,390 L107,391 L109.5,394 L111.8,399 L113.8,403 L105,402.5 L95,401.5 L85,400.5 Z"/><path fill="#0a0a0a" d="M113.8,403 L115.8,398 L118.2,393.5 L120.5,389.5 L123,386 L126,383 L129,381.5 L132,382.5 L135,385 L139,388 L143,391.5 L146.5,395.5 L148.5,399.5 L147,401.5 L135,402.2 L120,402.8 Z"/><g fill="none" stroke="#111" stroke-width="0.55"><circle cx="124.7" cy="395.3" r="0.85"/><circle cx="131.8" cy="402.8" r="0.85"/><circle cx="148.7" cy="398.7" r="0.85"/><circle cx="141.2" cy="383.5" r="0.85"/><circle cx="137.7" cy="397.4" r="0.85"/><circle cx="124.4" cy="398.6" r="0.85"/><circle cx="138.3" cy="383.2" r="0.85"/><circle cx="139.8" cy="381.2" r="0.85"/><circle cx="154.7" cy="396.6" r="0.85"/><circle cx="123.4" cy="395.4" r="0.85"/><circle cx="136.0" cy="399.0" r="0.85"/><circle cx="141.2" cy="395.1" r="0.85"/><circle cx="138.7" cy="401.1" r="0.85"/><circle cx="128.9" cy="397.4" r="0.85"/><circle cx="126.1" cy="394.8" r="0.85"/><circle cx="145.1" cy="400.0" r="0.85"/><circle cx="133.0" cy="396.2" r="0.85"/><circle cx="124.4" cy="393.1" r="0.85"/><circle cx="160.8" cy="398.9" r="0.85"/><circle cx="138.5" cy="400.4" r="0.85"/><circle cx="139.8" cy="380.9" r="0.85"/><circle cx="132.3" cy="388.6" r="0.85"/><circle cx="130.8" cy="402.0" r="0.85"/><circle cx="125.4" cy="401.7" r="0.85"/><circle cx="136.1" cy="383.9" r="0.85"/><circle cx="133.5" cy="399.4" r="0.85"/><circle cx="122.1" cy="395.7" r="0.85"/><circle cx="120.0" cy="402.4" r="0.85"/><circle cx="144.0" cy="381.0" r="0.85"/><circle cx="145.3" cy="394.4" r="0.85"/><circle cx="136.8" cy="398.5" r="0.85"/><circle cx="152.6" cy="385.8" r="0.85"/><circle cx="146.5" cy="396.2" r="0.85"/><circle cx="134.7" cy="397.9" r="0.85"/><circle cx="154.9" cy="397.4" r="0.85"/><circle cx="131.6" cy="400.0" r="0.85"/><circle cx="124.4" cy="402.2" r="0.85"/><circle cx="131.8" cy="381.4" r="0.85"/><circle cx="126.5" cy="401.6" r="0.85"/><circle cx="122.3" cy="401.1" r="0.85"/><circle cx="136.4" cy="385.9" r="0.85"/><circle cx="117.8" cy="401.9" r="0.85"/><circle cx="137.2" cy="378.4" r="0.85"/><circle cx="142.1" cy="400.0" r="0.85"/><circle cx="123.7" cy="396.9" r="0.85"/><circle cx="149.7" cy="389.5" r="0.85"/><circle cx="150.0" cy="392.2" r="0.85"/><circle cx="140.3" cy="384.6" r="0.85"/><circle cx="136.0" cy="382.2" r="0.85"/><circle cx="144.8" cy="402.0" r="0.85"/><circle cx="143.7" cy="389.3" r="0.85"/><circle cx="134.6" cy="385.2" r="0.85"/><circle cx="125.3" cy="397.7" r="0.85"/><circle cx="134.2" cy="377.4" r="0.85"/><circle cx="126.9" cy="395.7" r="0.85"/><circle cx="142.0" cy="384.7" r="0.85"/><circle cx="136.7" cy="380.4" r="0.85"/><circle cx="131.9" cy="382.6" r="0.85"/><circle cx="131.1" cy="387.1" r="0.85"/><circle cx="145.6" cy="387.9" r="0.85"/><circle cx="144.6" cy="403.0" r="0.85"/><circle cx="147.7" cy="384.2" r="0.85"/><circle cx="139.6" cy="376.6" r="0.85"/><circle cx="125.3" cy="390.8" r="0.85"/><circle cx="123.1" cy="395.1" r="0.85"/><circle cx="119.4" cy="396.4" r="0.85"/><circle cx="129.1" cy="392.9" r="0.85"/><circle cx="133.3" cy="391.7" r="0.85"/><circle cx="130.3" cy="392.4" r="0.85"/><circle cx="146.8" cy="390.5" r="0.85"/><circle cx="138.3" cy="390.5" r="0.85"/><circle cx="146.4" cy="392.3" r="0.85"/><circle cx="120.6" cy="401.6" r="0.85"/><circle cx="145.5" cy="391.3" r="0.85"/><circle cx="133.2" cy="386.0" r="0.85"/><circle cx="127.3" cy="385.8" r="0.85"/><circle cx="135.6" cy="390.3" r="0.85"/><circle cx="129.3" cy="395.3" r="0.85"/><circle cx="143.8" cy="386.1" r="0.85"/><circle cx="142.5" cy="384.8" r="0.85"/><circle cx="123.7" cy="400.5" r="0.85"/><circle cx="125.5" cy="398.6" r="0.85"/><circle cx="140.0" cy="394.4" r="0.85"/><circle cx="137.2" cy="398.3" r="0.85"/><circle cx="116.5" cy="402.5" r="0.85"/><circle cx="140.4" cy="385.7" r="0.85"/><circle cx="119.0" cy="399.2" r="0.85"/><circle cx="133.1" cy="401.8" r="0.85"/><circle cx="127.3" cy="396.9" r="0.85"/><circle cx="143.0" cy="390.5" r="0.85"/><circle cx="121.1" cy="395.2" r="0.85"/><circle cx="123.6" cy="400.3" r="0.85"/><circle cx="133.5" cy="383.2" r="0.85"/><circle cx="141.6" cy="384.2" r="0.85"/><circle cx="124.7" cy="399.4" r="0.85"/><circle cx="137.5" cy="391.0" r="0.85"/><circle cx="130.4" cy="384.5" r="0.85"/><circle cx="120.9" cy="394.8" r="0.85"/><circle cx="124.6" cy="398.8" r="0.85"/><circle cx="141.4" cy="377.2" r="0.85"/><circle cx="139.5" cy="396.4" r="0.85"/><circle cx="143.2" cy="380.0" r="0.85"/><circle cx="143.2" cy="381.9" r="0.85"/><circle cx="127.7" cy="386.0" r="0.85"/><circle cx="129.3" cy="387.2" r="0.85"/><circle cx="140.1" cy="394.0" r="0.85"/><circle cx="156.1" cy="397.3" r="0.85"/><circle cx="154.8" cy="397.5" r="0.85"/><circle cx="128.7" cy="402.7" r="0.85"/><circle cx="131.2" cy="394.8" r="0.85"/><circle cx="135.2" cy="394.1" r="0.85"/><circle cx="137.8" cy="383.3" r="0.85"/><circle cx="127.3" cy="391.8" r="0.85"/><circle cx="154.9" cy="394.2" r="0.85"/><circle cx="138.9" cy="396.1" r="0.85"/><circle cx="144.1" cy="380.9" r="0.85"/><circle cx="122.7" cy="399.5" r="0.85"/><circle cx="128.3" cy="402.5" r="0.85"/><circle cx="128.5" cy="391.5" r="0.85"/><circle cx="152.4" cy="394.6" r="0.85"/><circle cx="142.7" cy="395.9" r="0.85"/><circle cx="142.5" cy="393.2" r="0.85"/><circle cx="119.2" cy="402.4" r="0.85"/><circle cx="138.0" cy="397.4" r="0.85"/><circle cx="160.9" cy="397.3" r="0.85"/><circle cx="134.1" cy="382.7" r="0.85"/><circle cx="139.0" cy="381.9" r="0.85"/><circle cx="134.0" cy="391.4" r="0.85"/><circle cx="148.0" cy="398.8" r="0.85"/><circle cx="140.6" cy="387.2" r="0.85"/><circle cx="140.7" cy="389.3" r="0.85"/><circle cx="118.7" cy="400.9" r="0.85"/><circle cx="138.4" cy="397.0" r="0.85"/><circle cx="131.0" cy="386.3" r="0.85"/><circle cx="131.6" cy="401.3" r="0.85"/><circle cx="150.8" cy="394.9" r="0.85"/><circle cx="136.8" cy="401.0" r="0.85"/><circle cx="137.4" cy="401.1" r="0.85"/><circle cx="127.6" cy="393.9" r="0.85"/><circle cx="146.2" cy="397.1" r="0.85"/><circle cx="132.1" cy="379.5" r="0.85"/><circle cx="122.3" cy="401.3" r="0.85"/><circle cx="105.6" cy="400.5" r="0.85"/><circle cx="92.2" cy="393.3" r="0.85"/><circle cx="84.9" cy="399.6" r="0.85"/><circle cx="103.2" cy="400.8" r="0.85"/><circle cx="101.7" cy="402.4" r="0.85"/><circle cx="94.5" cy="395.9" r="0.85"/><circle cx="102.0" cy="400.3" r="0.85"/><circle cx="93.4" cy="393.4" r="0.85"/><circle cx="98.0" cy="392.8" r="0.85"/><circle cx="80.3" cy="400.1" r="0.85"/><circle cx="97.2" cy="396.1" r="0.85"/><circle cx="87.0" cy="395.9" r="0.85"/><circle cx="103.1" cy="401.2" r="0.85"/><circle cx="87.1" cy="394.4" r="0.85"/><circle cx="109.9" cy="401.9" r="0.85"/><circle cx="85.0" cy="395.5" r="0.85"/><circle cx="82.7" cy="393.7" r="0.85"/><circle cx="89.7" cy="395.6" r="0.85"/><circle cx="97.8" cy="398.3" r="0.85"/><circle cx="104.2" cy="401.6" r="0.85"/><circle cx="82.9" cy="396.4" r="0.85"/><circle cx="95.3" cy="396.5" r="0.85"/><circle cx="96.5" cy="401.4" r="0.85"/><circle cx="101.9" cy="398.1" r="0.85"/><circle cx="91.9" cy="401.7" r="0.85"/><circle cx="108.3" cy="402.4" r="0.85"/><circle cx="89.4" cy="399.9" r="0.85"/><circle cx="98.0" cy="396.7" r="0.85"/><circle cx="105.2" cy="397.1" r="0.85"/><circle cx="99.1" cy="398.7" r="0.85"/><circle cx="95.0" cy="393.8" r="0.85"/><circle cx="110.1" cy="402.0" r="0.85"/><circle cx="99.6" cy="398.7" r="0.85"/><circle cx="95.6" cy="402.1" r="0.85"/><circle cx="93.7" cy="392.3" r="0.85"/><circle cx="93.3" cy="391.8" r="0.85"/><circle cx="92.6" cy="393.4" r="0.85"/><circle cx="100.9" cy="401.5" r="0.85"/><circle cx="84.2" cy="402.9" r="0.85"/><circle cx="104.5" cy="395.8" r="0.85"/><circle cx="110.8" cy="401.5" r="0.85"/><circle cx="82.7" cy="398.1" r="0.85"/><circle cx="85.8" cy="393.3" r="0.85"/><circle cx="97.6" cy="399.7" r="0.85"/><circle cx="80.2" cy="402.6" r="0.85"/><circle cx="89.4" cy="402.4" r="0.85"/><circle cx="95.7" cy="401.5" r="0.85"/><circle cx="95.6" cy="400.1" r="0.85"/><circle cx="96.2" cy="393.1" r="0.85"/><circle cx="77.9" cy="396.8" r="0.85"/><circle cx="92.1" cy="400.2" r="0.85"/><circle cx="71.0" cy="399.0" r="0.85"/><circle cx="101.3" cy="401.1" r="0.85"/><circle cx="75.9" cy="398.8" r="0.85"/><circle cx="86.8" cy="395.5" r="0.85"/><circle cx="96.5" cy="398.3" r="0.85"/><circle cx="88.2" cy="401.1" r="0.85"/><circle cx="104.5" cy="395.3" r="0.85"/><circle cx="95.2" cy="393.9" r="0.85"/><circle cx="95.4" cy="400.8" r="0.85"/><circle cx="102.9" cy="401.3" r="0.85"/><circle cx="79.9" cy="398.9" r="0.85"/><circle cx="94.6" cy="397.7" r="0.85"/><circle cx="70.8" cy="399.0" r="0.85"/><circle cx="87.8" cy="393.3" r="0.85"/><circle cx="96.5" cy="399.6" r="0.85"/><circle cx="84.6" cy="395.6" r="0.85"/><circle cx="98.1" cy="397.8" r="0.85"/><circle cx="101.8" cy="401.8" r="0.85"/><circle cx="79.0" cy="399.0" r="0.85"/><circle cx="98.1" cy="394.8" r="0.85"/><circle cx="84.9" cy="399.6" r="0.85"/><circle cx="72.5" cy="398.3" r="0.85"/><circle cx="83.0" cy="397.0" r="0.85"/><circle cx="85.7" cy="398.1" r="0.85"/><circle cx="102.9" cy="401.3" r="0.85"/><circle cx="91.0" cy="393.7" r="0.85"/><circle cx="107.1" cy="399.0" r="0.85"/><circle cx="96.6" cy="401.9" r="0.85"/><circle cx="89.5" cy="393.4" r="0.85"/><circle cx="101.4" cy="395.6" r="0.85"/><circle cx="101.1" cy="399.1" r="0.85"/><circle cx="111.7" cy="401.9" r="0.85"/><circle cx="83.6" cy="402.2" r="0.85"/><circle cx="93.6" cy="398.7" r="0.85"/><circle cx="98.2" cy="401.0" r="0.85"/><circle cx="91.7" cy="393.2" r="0.85"/><circle cx="96.6" cy="401.3" r="0.85"/><circle cx="86.7" cy="396.9" r="0.85"/><circle cx="86.1" cy="397.4" r="0.85"/><circle cx="108.9" cy="402.9" r="0.85"/><circle cx="91.8" cy="392.4" r="0.85"/><circle cx="90.1" cy="394.5" r="0.85"/><circle cx="87.9" cy="397.0" r="0.85"/><circle cx="99.6" cy="395.1" r="0.85"/><circle cx="93.3" cy="399.9" r="0.85"/><circle cx="92.5" cy="396.8" r="0.85"/><circle cx="100.0" cy="396.6" r="0.85"/><circle cx="101.0" cy="402.5" r="0.85"/><circle cx="81.0" cy="397.4" r="0.85"/><circle cx="140.4" cy="377.4" r="0.85"/><circle cx="134.2" cy="379.5" r="0.85"/><circle cx="128.3" cy="384.2" r="0.85"/><circle cx="141.4" cy="376.5" r="0.85"/><circle cx="129.2" cy="376.4" r="0.85"/><circle cx="140.6" cy="391.2" r="0.85"/><circle cx="120.1" cy="390.7" r="0.85"/><circle cx="131.2" cy="380.9" r="0.85"/><circle cx="134.9" cy="383.7" r="0.85"/><circle cx="144.8" cy="384.5" r="0.85"/><circle cx="124.5" cy="382.9" r="0.85"/><circle cx="146.6" cy="383.0" r="0.85"/><circle cx="139.5" cy="386.3" r="0.85"/><circle cx="133.3" cy="386.6" r="0.85"/><circle cx="126.6" cy="386.3" r="0.85"/><circle cx="138.4" cy="387.9" r="0.85"/><circle cx="145.1" cy="384.3" r="0.85"/><circle cx="141.1" cy="390.0" r="0.85"/><circle cx="125.3" cy="388.1" r="0.85"/><circle cx="139.4" cy="388.5" r="0.85"/><circle cx="129.1" cy="387.1" r="0.85"/><circle cx="129.4" cy="376.8" r="0.85"/><circle cx="139.8" cy="380.3" r="0.85"/><circle cx="143.5" cy="380.7" r="0.85"/><circle cx="122.6" cy="390.1" r="0.85"/><circle cx="130.4" cy="378.0" r="0.85"/><circle cx="131.2" cy="385.0" r="0.85"/><circle cx="131.9" cy="376.7" r="0.85"/><circle cx="135.2" cy="380.6" r="0.85"/><circle cx="132.5" cy="379.0" r="0.85"/><circle cx="146.1" cy="378.5" r="0.85"/><circle cx="135.1" cy="383.4" r="0.85"/><circle cx="148.1" cy="393.7" r="0.85"/><circle cx="126.4" cy="386.3" r="0.85"/><circle cx="128.4" cy="386.9" r="0.85"/><circle cx="122.9" cy="384.4" r="0.85"/><circle cx="135.0" cy="377.0" r="0.85"/><circle cx="144.5" cy="383.2" r="0.85"/><circle cx="126.8" cy="379.3" r="0.85"/><circle cx="142.0" cy="376.1" r="0.85"/><circle cx="148.3" cy="383.0" r="0.85"/><circle cx="140.5" cy="386.9" r="0.85"/><circle cx="141.4" cy="380.1" r="0.85"/><circle cx="134.4" cy="378.1" r="0.85"/><circle cx="132.5" cy="380.2" r="0.85"/><circle cx="137.2" cy="380.6" r="0.85"/><circle cx="127.5" cy="388.1" r="0.85"/><circle cx="134.4" cy="379.0" r="0.85"/><circle cx="122.6" cy="385.2" r="0.85"/><circle cx="130.6" cy="383.1" r="0.85"/><circle cx="146.7" cy="380.0" r="0.85"/><circle cx="149.4" cy="393.6" r="0.85"/><circle cx="149.7" cy="394.8" r="0.85"/><circle cx="138.0" cy="378.5" r="0.85"/><circle cx="149.9" cy="388.2" r="0.85"/><circle cx="144.1" cy="386.3" r="0.85"/><circle cx="138.1" cy="378.3" r="0.85"/><circle cx="122.0" cy="388.5" r="0.85"/><circle cx="139.1" cy="389.1" r="0.85"/><circle cx="132.2" cy="382.2" r="0.85"/><circle cx="140.6" cy="390.3" r="0.85"/><circle cx="139.2" cy="382.9" r="0.85"/><circle cx="136.7" cy="385.3" r="0.85"/><circle cx="148.9" cy="391.1" r="0.85"/><circle cx="145.0" cy="379.3" r="0.85"/><circle cx="142.0" cy="389.7" r="0.85"/><circle cx="148.1" cy="392.3" r="0.85"/><circle cx="146.3" cy="379.9" r="0.85"/><circle cx="143.4" cy="384.5" r="0.85"/><circle cx="128.7" cy="382.1" r="0.85"/><circle cx="143.8" cy="392.5" r="0.85"/><circle cx="145.2" cy="388.7" r="0.85"/><circle cx="136.6" cy="378.7" r="0.85"/><circle cx="129.4" cy="376.3" r="0.85"/><circle cx="123.8" cy="389.8" r="0.85"/><circle cx="128.4" cy="379.9" r="0.85"/><circle cx="132.5" cy="382.4" r="0.85"/><circle cx="122.1" cy="389.6" r="0.85"/><circle cx="137.0" cy="385.1" r="0.85"/><circle cx="126.6" cy="380.3" r="0.85"/><circle cx="149.7" cy="393.5" r="0.85"/><circle cx="144.1" cy="389.3" r="0.85"/><circle cx="123.8" cy="385.9" r="0.85"/><circle cx="127.2" cy="382.8" r="0.85"/><circle cx="124.9" cy="389.6" r="0.85"/><circle cx="99.4" cy="391.0" r="0.85"/><circle cx="109.3" cy="394.2" r="0.85"/><circle cx="97.3" cy="386.9" r="0.85"/><circle cx="100.0" cy="391.9" r="0.85"/><circle cx="109.9" cy="393.7" r="0.85"/><circle cx="93.1" cy="388.9" r="0.85"/><circle cx="103.8" cy="386.8" r="0.85"/><circle cx="94.8" cy="387.0" r="0.85"/><circle cx="99.5" cy="384.6" r="0.85"/><circle cx="104.5" cy="390.8" r="0.85"/><circle cx="94.7" cy="387.9" r="0.85"/><circle cx="100.0" cy="389.6" r="0.85"/><circle cx="89.0" cy="391.1" r="0.85"/><circle cx="97.7" cy="382.2" r="0.85"/><circle cx="91.0" cy="385.9" r="0.85"/><circle cx="99.1" cy="383.0" r="0.85"/><circle cx="96.4" cy="387.6" r="0.85"/><circle cx="94.7" cy="388.1" r="0.85"/><circle cx="81.5" cy="393.0" r="0.85"/><circle cx="103.8" cy="382.7" r="0.85"/><circle cx="107.9" cy="392.0" r="0.85"/><circle cx="86.4" cy="390.7" r="0.85"/><circle cx="90.9" cy="386.4" r="0.85"/><circle cx="103.9" cy="391.2" r="0.85"/><circle cx="89.3" cy="390.1" r="0.85"/><circle cx="93.6" cy="390.3" r="0.85"/><circle cx="99.2" cy="389.2" r="0.85"/><circle cx="99.6" cy="390.0" r="0.85"/><circle cx="104.9" cy="382.5" r="0.85"/><circle cx="86.1" cy="387.7" r="0.85"/><circle cx="85.7" cy="392.6" r="0.85"/><circle cx="96.0" cy="391.1" r="0.85"/><circle cx="89.1" cy="390.8" r="0.85"/><circle cx="110.5" cy="393.7" r="0.85"/><circle cx="79.1" cy="395.7" r="0.85"/><circle cx="71.3" cy="396.7" r="0.85"/><circle cx="65.1" cy="397.9" r="0.85"/><circle cx="69.1" cy="397.8" r="0.85"/><circle cx="78.7" cy="394.4" r="0.85"/><circle cx="74.6" cy="398.1" r="0.85"/><circle cx="71.1" cy="395.0" r="0.85"/><circle cx="76.6" cy="395.6" r="0.85"/><circle cx="76.9" cy="394.7" r="0.85"/><circle cx="75.8" cy="399.4" r="0.85"/><circle cx="79.7" cy="396.3" r="0.85"/><circle cx="65.8" cy="383.7" r="0.85"/><circle cx="68.6" cy="394.4" r="0.85"/><circle cx="72.7" cy="390.2" r="0.85"/><circle cx="76.8" cy="395.3" r="0.85"/><circle cx="78.2" cy="382.5" r="0.85"/><circle cx="85.0" cy="385.0" r="0.85"/><circle cx="89.2" cy="386.7" r="0.85"/><circle cx="94.7" cy="387.6" r="0.85"/><circle cx="98.8" cy="388.9" r="0.85"/><circle cx="101.5" cy="391.0" r="0.85"/><circle cx="134.5" cy="370.9" r="0.85"/><circle cx="137.9" cy="373.0" r="0.85"/><circle cx="142.8" cy="353.8" r="0.85"/><circle cx="146.2" cy="352.5" r="0.85"/><circle cx="149.6" cy="358.1" r="0.85"/><circle cx="140.0" cy="362.3" r="0.85"/><circle cx="144.8" cy="366.6" r="0.85"/><circle cx="150.3" cy="368.8" r="0.85"/><circle cx="156.5" cy="376.5" r="0.85"/><circle cx="160.6" cy="379.5" r="0.85"/><circle cx="151.7" cy="380.7" r="0.85"/><circle cx="165.4" cy="385.9" r="0.85"/><circle cx="147.6" cy="360.6" r="0.85"/><circle cx="140.7" cy="352.5" r="0.85"/><circle cx="131.1" cy="373.0" r="0.85"/><circle cx="129.0" cy="377.3" r="0.85"/><circle cx="135.9" cy="365.3" r="0.85"/><circle cx="141.4" cy="360.2" r="0.85"/><circle cx="144.1" cy="363.6" r="0.85"/><circle cx="133.8" cy="367.9" r="0.85"/><circle cx="153.7" cy="373.0" r="0.85"/><circle cx="157.9" cy="383.7" r="0.85"/></g><g fill="#777"><circle cx="150.4" cy="280.0" r="0.9"/><circle cx="154.8" cy="297.9" r="0.9"/><circle cx="136.2" cy="316.5" r="0.9"/><circle cx="154.4" cy="321.5" r="0.9"/><circle cx="141.3" cy="329.2" r="0.9"/><circle cx="147.0" cy="329.2" r="0.9"/><circle cx="132.0" cy="343.2" r="0.9"/><circle cx="137.0" cy="343.2" r="0.9"/><circle cx="142.0" cy="346.0" r="0.9"/><circle cx="146.0" cy="350.0" r="0.9"/><circle cx="139.0" cy="352.0" r="0.9"/><circle cx="150.0" cy="349.0" r="0.9"/></g><g fill="#f7941d"><circle cx="121.6" cy="399.0" r="1.3"/><circle cx="122.7" cy="399.7" r="1.3"/><circle cx="124.6" cy="396.1" r="1.3"/><circle cx="125.6" cy="394.8" r="1.3"/><circle cx="128.0" cy="394.6" r="1.3"/><circle cx="129.7" cy="392.7" r="1.3"/><circle cx="131.3" cy="390.8" r="1.3"/><circle cx="131.8" cy="388.3" r="1.3"/><circle cx="134.6" cy="389.6" r="1.3"/><circle cx="135.0" cy="387.6" r="1.3"/><circle cx="137.3" cy="386.2" r="1.3"/><circle cx="138.1" cy="383.4" r="1.3"/><circle cx="139.1" cy="382.7" r="1.3"/><circle cx="140.4" cy="381.3" r="1.3"/><circle cx="142.2" cy="379.8" r="1.3"/><circle cx="144.7" cy="380.9" r="1.3"/><circle cx="146.6" cy="380.4" r="1.3"/><circle cx="145.3" cy="378.2" r="1.3"/><circle cx="140.5" cy="377.1" r="1.3"/><circle cx="142.5" cy="374.9" r="1.3"/><circle cx="147.1" cy="366.6" r="1.3"/><circle cx="149.8" cy="360.5" r="1.3"/><circle cx="137.8" cy="387.1" r="1.3"/><circle cx="135.2" cy="389.8" r="1.3"/><circle cx="133.3" cy="393.4" r="1.3"/><circle cx="126.9" cy="397.4" r="1.3"/><circle cx="130.0" cy="394.7" r="1.3"/></g><g fill="#e8401c"><circle cx="153.8" cy="281.9" r="1.3"/><circle cx="164.4" cy="344" r="1.3"/><circle cx="168.7" cy="353" r="1.3"/><circle cx="172" cy="353.6" r="1.3"/><circle cx="158.7" cy="355.2" r="1.3"/><circle cx="83.0" cy="388.1" r="1.3"/><circle cx="97.9" cy="397.8" r="1.3"/></g><g stroke="#333" stroke-width="0.6"><line x1="154.5" y1="282.5" x2="158.6" y2="285.2"/><line x1="164.4" y1="335.5" x2="164.4" y2="343"/><line x1="169.3" y1="352.5" x2="173.5" y2="349.5"/><line x1="172.6" y1="354.4" x2="175.6" y2="360.5"/><line x1="158.7" y1="356.2" x2="158.7" y2="365"/><line x1="83.1" y1="387.3" x2="85.6" y2="377.5"/></g><text x="160" y="288.4" font-style="italic" font-size="7.2" fill="#222" textLength="23" lengthAdjust="spacingAndGlyphs" stroke="#222" stroke-width="0.15">LRRC4C</text><text x="159.6" y="333.6" font-style="italic" font-size="7.2" fill="#222" textLength="19.2" lengthAdjust="spacingAndGlyphs" stroke="#222" stroke-width="0.15">NTRK3</text><text x="174" y="349.6" font-style="italic" font-size="7.2" fill="#222" textLength="16.4" lengthAdjust="spacingAndGlyphs" stroke="#222" stroke-width="0.15">CDX2</text><text x="175" y="364.9" font-style="italic" font-size="7.2" fill="#222" textLength="18.5" lengthAdjust="spacingAndGlyphs" stroke="#222" stroke-width="0.15">PREX2</text><text x="158" y="370.6" font-style="italic" font-size="7.2" fill="#222" textLength="17" lengthAdjust="spacingAndGlyphs" stroke="#222" stroke-width="0.15">CDH7</text><circle cx="70.8" cy="375.2" r="0.85" fill="none" stroke="#111" stroke-width="0.55"/><text x="73.2" y="377.3" font-size="6.6" fill="#222" textLength="36.1" lengthAdjust="spacingAndGlyphs"><tspan font-style="italic">MME</tspan> (CD10)</text><text x="105.8" y="390.8" font-style="italic" font-size="7.2" fill="#222" textLength="12.7" lengthAdjust="spacingAndGlyphs" stroke="#222" stroke-width="0.15">FLT3</text><text x="155.3" y="394.6" font-size="7.2" fill="#f7a035" textLength="40.3" lengthAdjust="spacingAndGlyphs" stroke="#f7a035" stroke-width="0.15">Histone genes</text><text x="44.1" y="406" font-size="6.8" fill="#222" textLength="35" lengthAdjust="spacingAndGlyphs">Other B-ALL</text><text x="147.6" y="405.8" font-size="6.8" fill="#222" textLength="34.6" lengthAdjust="spacingAndGlyphs">CDX2/UBTF</text><g stroke="#222" stroke-width="1.1" fill="none"><path d="M39.5,292 V408.5 H186.5"/><line x1="36.8" x2="39.7" y1="403.5" y2="403.5"/><line x1="36.8" x2="39.7" y1="381.5" y2="381.5"/><line x1="36.8" x2="39.7" y1="360.5" y2="360.5"/><line x1="36.8" x2="39.7" y1="338.5" y2="338.5"/><line x1="36.8" x2="39.7" y1="317.5" y2="317.5"/><line x1="36.8" x2="39.7" y1="296.5" y2="296.5"/><line x1="45.5" x2="45.5" y1="408.5" y2="411.7"/><line x1="79.5" x2="79.5" y1="408.5" y2="411.7"/><line x1="113.5" x2="113.5" y1="408.5" y2="411.7"/><line x1="148.5" x2="148.5" y1="408.5" y2="411.7"/><line x1="183.5" x2="183.5" y1="408.5" y2="411.7"/></g><text x="33.5" y="405.9" font-size="8.4" fill="#222" text-anchor="end" stroke="#222" stroke-width="0.15">0</text><text x="33.5" y="384.5" font-size="8.4" fill="#222" text-anchor="end" stroke="#222" stroke-width="0.15">50</text><text x="33.5" y="363.1" font-size="8.4" fill="#222" text-anchor="end" stroke="#222" stroke-width="0.15">100</text><text x="33.5" y="341.7" font-size="8.4" fill="#222" text-anchor="end" stroke="#222" stroke-width="0.15">150</text><text x="33.5" y="320.3" font-size="8.4" fill="#222" text-anchor="end" stroke="#222" stroke-width="0.15">200</text><text x="33.5" y="298.9" font-size="8.4" fill="#222" text-anchor="end" stroke="#222" stroke-width="0.15">250</text><text x="37" y="420.9" font-size="8.4" fill="#222" textLength="12.5" lengthAdjust="spacingAndGlyphs" stroke="#222" stroke-width="0.15">&#8722;10</text><text x="73.9" y="420.9" font-size="8.4" fill="#222" textLength="7.8" lengthAdjust="spacingAndGlyphs" stroke="#222" stroke-width="0.15">&#8722;5</text><text x="112.1" y="420.9" font-size="8.4" fill="#222" textLength="3.8" lengthAdjust="spacingAndGlyphs" stroke="#222" stroke-width="0.15">0</text><text x="146.5" y="420.9" font-size="8.4" fill="#222" textLength="3.8" lengthAdjust="spacingAndGlyphs" stroke="#222" stroke-width="0.15">5</text><text x="178.7" y="420.9" font-size="8.4" fill="#222" textLength="7.8" lengthAdjust="spacingAndGlyphs" stroke="#222" stroke-width="0.15">10</text><text x="67.2" y="433.4" font-size="9" fill="#222" textLength="92.5" lengthAdjust="spacingAndGlyphs" stroke="#222" stroke-width="0.15">Expression log2 fold change</text><text x="14.8" y="351" font-size="9" fill="#222" text-anchor="middle" transform="rotate(-90 14.8 351)" textLength="55" lengthAdjust="spacingAndGlyphs" stroke="#222" stroke-width="0.15">&#8722;log10(p-value)</text><g stroke="#333" stroke-width="0.5"><line x1="44.1" x2="79.1" y1="406.9" y2="406.9"/><line x1="147.6" x2="182.2" y1="406.9" y2="406.9"/></g><path fill="#c8102e" d="M240,338 L240.00,313.00 A25,25 0 0 1 247.04,314.01 Z"/><path fill="#f7941d" d="M240,338 L247.04,314.01 A25,25 0 0 1 264.75,334.44 Z"/><path fill="#1c5288" d="M240,338 L264.75,334.44 A25,25 0 1 1 240.00,313.00 Z"/><path fill="#c8102e" d="M304.2,338 L304.20,313.00 A25,25 0 0 1 317.72,359.03 Z"/><path fill="#1c5288" d="M304.2,338 L317.72,359.03 A25,25 0 0 1 311.24,361.99 Z"/><path fill="#bdbdc1" d="M304.2,338 L311.24,361.99 A25,25 0 1 1 304.20,313.00 Z"/><text x="242.3" y="322" font-size="8.6" fill="#fff" text-anchor="middle">1</text><text x="251.2" y="331.2" font-size="8.6" fill="#222" text-anchor="middle" stroke="#222" stroke-width="0.15">4</text><text x="236.2" y="350.8" font-size="8.6" fill="#fff" text-anchor="middle">17</text><text x="317.2" y="339.7" font-size="8.6" fill="#fff" text-anchor="middle">9</text><text x="312.6" y="360" font-size="8.6" fill="#fff" text-anchor="middle">1</text><text x="292.8" y="343.3" font-size="8.6" fill="#222" text-anchor="middle" stroke="#222" stroke-width="0.15">12</text><text x="240" y="373.8" font-size="8.6" fill="#222" text-anchor="middle" stroke="#222" stroke-width="0.15">CD10</text><text x="304.2" y="373.5" font-size="8.6" fill="#222" text-anchor="middle" stroke="#222" stroke-width="0.15">IgM</text><text x="208.9" y="386" font-size="8.6" fill="#c8102e" textLength="27.1" lengthAdjust="spacingAndGlyphs" stroke="#c8102e" stroke-width="0.15">Positive</text><text x="243" y="386" font-size="8.6" fill="#f7941d" textLength="14" lengthAdjust="spacingAndGlyphs" stroke="#f7941d" stroke-width="0.15">Dim</text><text x="267" y="386" font-size="8.6" fill="#2d66a8" textLength="31.5" lengthAdjust="spacingAndGlyphs" stroke="#2d66a8" stroke-width="0.15">Negative</text><text x="308.5" y="386" font-size="8.6" fill="#222" textLength="28.5" lengthAdjust="spacingAndGlyphs" stroke="#222" stroke-width="0.15">No data</text><g stroke="#222" stroke-width="1.1" fill="none"><path d="M393.5,316.7 V408.5 H497"/><line x1="390.5" x2="393.5" y1="405.5" y2="405.5"/><line x1="390.5" x2="393.5" y1="384.5" y2="384.5"/><line x1="390.5" x2="393.5" y1="362.5" y2="362.5"/><line x1="390.5" x2="393.5" y1="341.5" y2="341.5"/><line x1="390.5" x2="393.5" y1="320.5" y2="320.5"/><line x1="422.5" x2="422.5" y1="408.5" y2="411.5"/><line x1="469.5" x2="469.5" y1="408.5" y2="411.5"/></g><text x="386.9" y="408.3" font-size="8.4" fill="#222" text-anchor="end" stroke="#222" stroke-width="0.15">0</text><text x="386.9" y="387.0" font-size="8.4" fill="#222" text-anchor="end" stroke="#222" stroke-width="0.15">2500</text><text x="386.9" y="365.7" font-size="8.4" fill="#222" text-anchor="end" stroke="#222" stroke-width="0.15">5000</text><text x="386.9" y="344.4" font-size="8.4" fill="#222" text-anchor="end" stroke="#222" stroke-width="0.15">7500</text><text x="386.9" y="323.1" font-size="8.4" fill="#222" text-anchor="end" stroke="#222" stroke-width="0.15">10000</text><line x1="422" x2="422" y1="380.8" y2="394.3" stroke="#999" stroke-width="0.8"/><rect x="405" y="394.3" width="33.9" height="10.8" fill="#f8766d" stroke="#333" stroke-width="0.6"/><line x1="405" x2="438.9" y1="403.6" y2="403.6" stroke="#333" stroke-width="0.8"/><line x1="453" x2="486" y1="404.9" y2="404.9" stroke="#1a1a1a" stroke-width="1.3"/><g fill="#111"><circle cx="423" cy="322.5" r="0.75"/><circle cx="431.2" cy="380.8" r="0.75"/><circle cx="424.8" cy="387.7" r="0.75"/><circle cx="418.9" cy="390.5" r="0.75"/><circle cx="432.8" cy="391" r="0.75"/><circle cx="415" cy="398" r="0.75"/><circle cx="410" cy="400" r="0.75"/><circle cx="428" cy="393.5" r="0.75"/><circle cx="420" cy="396" r="0.75"/><circle cx="413" cy="404.5" r="0.75"/><circle cx="418" cy="404.6" r="0.75"/><circle cx="425" cy="404.7" r="0.75"/><circle cx="430" cy="404.5" r="0.75"/><circle cx="435" cy="404.4" r="0.75"/><circle cx="437" cy="402" r="0.75"/><circle cx="408" cy="404" r="0.75"/><circle cx="462" cy="404.8" r="0.75"/><circle cx="470" cy="404.6" r="0.75"/><circle cx="478" cy="403.8" r="0.75"/><circle cx="481" cy="398" r="0.75"/><circle cx="485" cy="400" r="0.75"/><circle cx="459" cy="405" r="0.75"/><circle cx="474" cy="404.8" r="0.75"/><circle cx="470" cy="393.5" r="0.75"/><circle cx="476" cy="400.5" r="0.75"/><circle cx="466" cy="404.5" r="0.75"/></g><text x="452.3" y="380.3" font-size="8.2" fill="#222" textLength="41.5" lengthAdjust="spacingAndGlyphs" stroke="#222" stroke-width="0.15">p = 6.9×10</text><text x="494" y="376.5" font-size="5.6" fill="#222">&#8722;15</text><text x="360.2" y="362.5" font-size="9.2" fill="#222" text-anchor="middle" transform="rotate(-90 360.2 362.5)" textLength="83" lengthAdjust="spacingAndGlyphs" stroke="#222" stroke-width="0.15"><tspan font-style="italic">NTRK3</tspan> normalized count</text><line x1="433.8" x2="433.8" y1="329.0" y2="339.79999999999995" stroke="#222" stroke-width="0.8"/><rect x="430.4" y="331.2" width="6.8" height="6.4" fill="#f8766d" stroke="#1a1a1a" stroke-width="0.9"/><line x1="430.4" x2="437.2" y1="334.4" y2="334.4" stroke="#1a1a1a" stroke-width="0.9"/><line x1="433.8" x2="433.8" y1="341.1" y2="351.9" stroke="#222" stroke-width="0.8"/><rect x="430.4" y="343.3" width="6.8" height="6.4" fill="#1fd0df" stroke="#1a1a1a" stroke-width="0.9"/><line x1="430.4" x2="437.2" y1="346.5" y2="346.5" stroke="#1a1a1a" stroke-width="0.9"/><text x="440.2" y="336.7" font-size="8.2" fill="#222" textLength="64.4" lengthAdjust="spacingAndGlyphs" stroke="#222" stroke-width="0.15">CDX2/UBTF n = 22</text><text x="440.2" y="348.9" font-size="8.2" fill="#222" textLength="73.1" lengthAdjust="spacingAndGlyphs" stroke="#222" stroke-width="0.15">Other B-ALL n = 1982</text><rect x="37.5" y="504.5" width="125.0" height="108.0" fill="none" stroke="#333" stroke-width="1"/><line x1="37.5" x2="162.5" y1="554.4" y2="554.4" stroke="#ddd" stroke-width="0.8"/><line x1="37.9" x2="37.9" y1="557" y2="574" stroke="#111" stroke-width="0.75"/><line x1="40.3" x2="40.3" y1="557" y2="574" stroke="#555" stroke-width="0.75"/><line x1="41" x2="41" y1="557" y2="574" stroke="#555" stroke-width="0.75"/><line x1="42" x2="42" y1="557" y2="574" stroke="#555" stroke-width="0.75"/><line x1="43" x2="43" y1="557" y2="574" stroke="#555" stroke-width="0.75"/><line x1="45.3" x2="45.3" y1="557" y2="574" stroke="#555" stroke-width="0.75"/><line x1="48.2" x2="48.2" y1="557" y2="574" stroke="#555" stroke-width="0.75"/><line x1="49" x2="49" y1="557" y2="574" stroke="#555" stroke-width="0.75"/><line x1="56.3" x2="56.3" y1="557" y2="574" stroke="#555" stroke-width="0.75"/><line x1="61.6" x2="61.6" y1="557" y2="574" stroke="#555" stroke-width="0.75"/><line x1="70.8" x2="70.8" y1="557" y2="574" stroke="#555" stroke-width="0.75"/><line x1="71.6" x2="71.6" y1="557" y2="574" stroke="#555" stroke-width="0.75"/><line x1="73.9" x2="73.9" y1="557" y2="574" stroke="#555" stroke-width="0.75"/><line x1="76.5" x2="76.5" y1="557" y2="574" stroke="#555" stroke-width="0.75"/><line x1="79.6" x2="79.6" y1="557" y2="574" stroke="#555" stroke-width="0.75"/><line x1="80.6" x2="80.6" y1="557" y2="574" stroke="#555" stroke-width="0.75"/><line x1="88.2" x2="88.2" y1="557" y2="574" stroke="#555" stroke-width="0.75"/><line x1="95.5" x2="95.5" y1="557" y2="574" stroke="#555" stroke-width="0.75"/><line x1="96.7" x2="96.7" y1="557" y2="574" stroke="#555" stroke-width="0.75"/><line x1="99.9" x2="99.9" y1="557" y2="574" stroke="#555" stroke-width="0.75"/><line x1="102.5" x2="102.5" y1="557" y2="574" stroke="#555" stroke-width="0.75"/><line x1="105.8" x2="105.8" y1="557" y2="574" stroke="#555" stroke-width="0.75"/><line x1="108.4" x2="108.4" y1="557" y2="574" stroke="#111" stroke-width="0.75"/><line x1="114" x2="114" y1="557" y2="574" stroke="#555" stroke-width="0.75"/><line x1="118.9" x2="118.9" y1="557" y2="574" stroke="#555" stroke-width="0.75"/><line x1="123.5" x2="123.5" y1="557" y2="574" stroke="#111" stroke-width="0.75"/><line x1="127.4" x2="127.4" y1="557" y2="574" stroke="#555" stroke-width="0.75"/><line x1="138.9" x2="138.9" y1="557" y2="574" stroke="#555" stroke-width="0.75"/><line x1="145" x2="145" y1="557" y2="574" stroke="#555" stroke-width="0.75"/><rect x="37.5" y="574.5" width="25.5" height="3.8" fill="#ee2a30"/><rect x="62.7" y="574.5" width="12.6" height="3.8" fill="#f05a70"/><rect x="75.0" y="574.5" width="15.0" height="3.8" fill="#f37a85"/><rect x="89.6" y="574.5" width="19.4" height="3.8" fill="#f8c2d8"/><rect x="108.7" y="574.5" width="13.3" height="3.8" fill="#e4dcf2"/><rect x="121.7" y="574.5" width="10.8" height="3.8" fill="#d2c8ec"/><rect x="132.2" y="574.5" width="8.1" height="3.8" fill="#8a86cc"/><rect x="140.0" y="574.5" width="14.5" height="3.8" fill="#5252b2"/><rect x="154.2" y="574.5" width="2.9" height="3.8" fill="#1c2a8e"/><line x1="37.5" x2="162.5" y1="579.3" y2="579.3" stroke="#e6e6e6" stroke-width="0.6"/><path fill="#c8c8c8" d="M38.0,595.8 L38.0,589 C40.5,592.5 45.5,593.8 57.5,594.5 L91.185,595.8 L132.94,596.4 C147.25600000000003,597.0 154.8,597.3 155.8,598.8 L156.8,611 L156.8,595.8 Z"/><line x1="38.0" x2="156.8" y1="595.8" y2="595.8" stroke="#aaa" stroke-width="0.5"/><polyline fill="none" stroke="#52ba30" stroke-width="1.25" stroke-linejoin="round" points="38.1,553.9 38.6,535.0 38.8,530.0 40.0,529.8 40.6,525.0 41.2,517.5 41.9,515.6 42.8,513.1 43.8,511.5 45.0,510.6 46.5,510.6 47.5,511.5 48.8,508.8 50.0,506.5 51.9,507.5 55.6,510.0 57.2,508.5 58.8,509.4 60.6,510.4 62.5,509.8 65.6,511.5 70.6,513.8 72.5,513.5 78.8,515.6 81.2,516.0 87.5,519.4 95.0,523.0 108.5,528.9 121.9,537.0 138.0,545.1 145.5,547.8 156.2,553.8"/><line x1="34.0" x2="37.5" y1="553.5" y2="553.5" stroke="#333" stroke-width="1"/><text x="31.6" y="557.0" font-size="8.8" fill="#222" text-anchor="end" stroke="#222" stroke-width="0.15">0.0</text><line x1="34.0" x2="37.5" y1="547.5" y2="547.5" stroke="#333" stroke-width="1"/><line x1="34.0" x2="37.5" y1="540.5" y2="540.5" stroke="#333" stroke-width="1"/><text x="31.6" y="543.6" font-size="8.8" fill="#222" text-anchor="end" stroke="#222" stroke-width="0.15">0.2</text><line x1="34.0" x2="37.5" y1="533.5" y2="533.5" stroke="#333" stroke-width="1"/><line x1="34.0" x2="37.5" y1="527.5" y2="527.5" stroke="#333" stroke-width="1"/><text x="31.6" y="530.2" font-size="8.8" fill="#222" text-anchor="end" stroke="#222" stroke-width="0.15">0.4</text><line x1="34.0" x2="37.5" y1="520.5" y2="520.5" stroke="#333" stroke-width="1"/><line x1="34.0" x2="37.5" y1="513.5" y2="513.5" stroke="#333" stroke-width="1"/><text x="31.6" y="516.8" font-size="8.8" fill="#222" text-anchor="end" stroke="#222" stroke-width="0.15">0.6</text><line x1="34.0" x2="37.5" y1="507.5" y2="507.5" stroke="#333" stroke-width="1"/><line x1="65.5" x2="65.5" y1="612.5" y2="615.5" stroke="#333" stroke-width="1"/><line x1="92.5" x2="92.5" y1="612.5" y2="615.5" stroke="#333" stroke-width="1"/><line x1="119.5" x2="119.5" y1="612.5" y2="615.5" stroke="#333" stroke-width="1"/><line x1="147.5" x2="147.5" y1="612.5" y2="615.5" stroke="#333" stroke-width="1"/><text x="14.2" y="529.2" font-size="9.8" fill="#222" text-anchor="middle" transform="rotate(-90 14.2 529.2)" textLength="56.4" lengthAdjust="spacingAndGlyphs" stroke="#222" stroke-width="0.15">Enrichment score</text><text x="44.4" y="539.7" font-size="8.1" fill="#222" stroke="#222" stroke-width="0.15" textLength="32.6" lengthAdjust="spacingAndGlyphs">NES 2.15</text><text x="44.4" y="549" font-size="8.1" fill="#222" stroke="#222" stroke-width="0.15" textLength="41.2" lengthAdjust="spacingAndGlyphs">FDR &lt;0.001</text><text x="59" y="488.3" font-size="9.6" fill="#222" stroke="#222" stroke-width="0.2" textLength="82.6" lengthAdjust="spacingAndGlyphs">HDACs deacetylate</text><text x="82.3" y="498.5" font-size="9.6" fill="#222" stroke="#222" stroke-width="0.2" textLength="34.5" lengthAdjust="spacingAndGlyphs">histones</text><text x="39.0" y="587.3" font-size="7.2" fill="#d8284a" textLength="35" lengthAdjust="spacingAndGlyphs" stroke="#d8284a" stroke-width="0.15">CDX2/UBTF</text><text x="74.5" y="583.6" font-size="5.4" fill="#d8284a" textLength="51" lengthAdjust="spacingAndGlyphs">(positively correlated)</text><rect x="89.185" y="592.3" width="50" height="7" fill="#fff"/><text x="88.799" y="597.8" font-size="5.6" fill="#111" textLength="48" lengthAdjust="spacingAndGlyphs">Zero cross at 13131</text><text x="153.4" y="606.3" font-size="7.6" fill="#3a6aa8" text-anchor="end" textLength="20" lengthAdjust="spacingAndGlyphs" stroke="#3a6aa8" stroke-width="0.15">Others</text><text x="153.3" y="611" font-size="5.6" fill="#3a6aa8" text-anchor="end" textLength="56.5" lengthAdjust="spacingAndGlyphs">(negatively correlated)</text><rect x="203.5" y="504.5" width="133.0" height="108.0" fill="none" stroke="#333" stroke-width="1"/><line x1="203.5" x2="336.5" y1="554.1" y2="554.1" stroke="#ddd" stroke-width="0.8"/><line x1="204.1" x2="204.1" y1="557" y2="574" stroke="#111" stroke-width="0.75"/><line x1="207.2" x2="207.2" y1="557" y2="574" stroke="#555" stroke-width="0.75"/><line x1="209.5" x2="209.5" y1="557" y2="574" stroke="#555" stroke-width="0.75"/><line x1="210.3" x2="210.3" y1="557" y2="574" stroke="#555" stroke-width="0.75"/><line x1="216.4" x2="216.4" y1="557" y2="574" stroke="#555" stroke-width="0.75"/><line x1="225.3" x2="225.3" y1="557" y2="574" stroke="#555" stroke-width="0.75"/><line x1="233.4" x2="233.4" y1="557" y2="574" stroke="#555" stroke-width="0.75"/><line x1="239.9" x2="239.9" y1="557" y2="574" stroke="#111" stroke-width="0.75"/><line x1="250.4" x2="250.4" y1="557" y2="574" stroke="#555" stroke-width="0.75"/><line x1="262.4" x2="262.4" y1="557" y2="574" stroke="#555" stroke-width="0.75"/><line x1="278.5" x2="278.5" y1="557" y2="574" stroke="#555" stroke-width="0.75"/><line x1="301.7" x2="301.7" y1="557" y2="574" stroke="#555" stroke-width="0.75"/><line x1="317.7" x2="317.7" y1="557" y2="574" stroke="#555" stroke-width="0.75"/><rect x="203.5" y="574.5" width="27.1" height="3.8" fill="#ee2a30"/><rect x="230.3" y="574.5" width="13.4" height="3.8" fill="#f05a70"/><rect x="243.4" y="574.5" width="15.9" height="3.8" fill="#f37a85"/><rect x="259.1" y="574.5" width="20.7" height="3.8" fill="#f8c2d8"/><rect x="279.4" y="574.5" width="14.2" height="3.8" fill="#e4dcf2"/><rect x="293.3" y="574.5" width="11.5" height="3.8" fill="#d2c8ec"/><rect x="304.5" y="574.5" width="8.6" height="3.8" fill="#8a86cc"/><rect x="312.8" y="574.5" width="15.4" height="3.8" fill="#5252b2"/><rect x="327.9" y="574.5" width="3.1" height="3.8" fill="#1c2a8e"/><line x1="203.5" x2="336.5" y1="579.3" y2="579.3" stroke="#e6e6e6" stroke-width="0.6"/><path fill="#c8c8c8" d="M204.0,595.8 L204.0,589 C206.5,592.5 211.5,593.8 223.5,594.5 L260.74,595.8 L305.26,596.4 C320.524,597.0 328.7,597.3 329.7,598.8 L330.7,611 L330.7,595.8 Z"/><line x1="204.0" x2="330.7" y1="595.8" y2="595.8" stroke="#aaa" stroke-width="0.5"/><polyline fill="none" stroke="#52ba30" stroke-width="1.25" stroke-linejoin="round" points="204.2,553.5 204.7,544.4 205.7,536.3 206.7,536.0 207.8,526.9 208.5,516.2 209.4,515.1 210.8,506.2 216.2,509.4 217.2,506.3 224.2,510.5 226.2,506.2 232.3,510.1 235.3,506.7 239.7,510.0 241.0,507.0 249.8,512.1 261.2,517.5 270.0,521.5 300.4,539.0 302.5,538.7 317.0,547.6 318.7,546.2 330.7,553.4"/><line x1="200.0" x2="203.5" y1="553.5" y2="553.5" stroke="#333" stroke-width="1"/><text x="198.5" y="556.7" font-size="8.8" fill="#222" text-anchor="end" stroke="#222" stroke-width="0.15">0.0</text><line x1="200.0" x2="203.5" y1="546.5" y2="546.5" stroke="#333" stroke-width="1"/><line x1="200.0" x2="203.5" y1="539.5" y2="539.5" stroke="#333" stroke-width="1"/><text x="198.5" y="542.2" font-size="8.8" fill="#222" text-anchor="end" stroke="#222" stroke-width="0.15">0.2</text><line x1="200.0" x2="203.5" y1="531.5" y2="531.5" stroke="#333" stroke-width="1"/><line x1="200.0" x2="203.5" y1="524.5" y2="524.5" stroke="#333" stroke-width="1"/><text x="198.5" y="527.7" font-size="8.8" fill="#222" text-anchor="end" stroke="#222" stroke-width="0.15">0.4</text><line x1="200.0" x2="203.5" y1="517.5" y2="517.5" stroke="#333" stroke-width="1"/><line x1="200.0" x2="203.5" y1="510.5" y2="510.5" stroke="#333" stroke-width="1"/><text x="198.5" y="513.2" font-size="8.8" fill="#222" text-anchor="end" stroke="#222" stroke-width="0.15">0.6</text><line x1="232.5" x2="232.5" y1="612.5" y2="615.5" stroke="#333" stroke-width="1"/><line x1="261.5" x2="261.5" y1="612.5" y2="615.5" stroke="#333" stroke-width="1"/><line x1="290.5" x2="290.5" y1="612.5" y2="615.5" stroke="#333" stroke-width="1"/><line x1="319.5" x2="319.5" y1="612.5" y2="615.5" stroke="#333" stroke-width="1"/><text x="181.3" y="529.2" font-size="9.8" fill="#222" text-anchor="middle" transform="rotate(-90 181.3 529.2)" textLength="56.4" lengthAdjust="spacingAndGlyphs" stroke="#222" stroke-width="0.15">Enrichment score</text><text x="211.4" y="539.7" font-size="8.1" fill="#222" stroke="#222" stroke-width="0.15" textLength="32.6" lengthAdjust="spacingAndGlyphs">NES 1.69</text><text x="211.4" y="549" font-size="8.1" fill="#222" stroke="#222" stroke-width="0.15" textLength="41.2" lengthAdjust="spacingAndGlyphs">FDR &lt;0.001</text><text x="232.1" y="488.3" font-size="9.6" fill="#222" stroke="#222" stroke-width="0.2" textLength="77.2" lengthAdjust="spacingAndGlyphs">RNA polymerase I</text><text x="231.6" y="498.5" font-size="9.6" fill="#222" stroke="#222" stroke-width="0.2" textLength="77.7" lengthAdjust="spacingAndGlyphs">promoter opening</text><text x="205.0" y="587.3" font-size="7.2" fill="#d8284a" textLength="35" lengthAdjust="spacingAndGlyphs" stroke="#d8284a" stroke-width="0.15">CDX2/UBTF</text><text x="240.5" y="583.6" font-size="5.4" fill="#d8284a" textLength="51" lengthAdjust="spacingAndGlyphs">(positively correlated)</text><rect x="258.74" y="592.3" width="50" height="7" fill="#fff"/><text x="258.19599999999997" y="597.8" font-size="5.6" fill="#111" textLength="48" lengthAdjust="spacingAndGlyphs">Zero cross at 13131</text><text x="327.3" y="606.3" font-size="7.6" fill="#3a6aa8" text-anchor="end" textLength="20" lengthAdjust="spacingAndGlyphs" stroke="#3a6aa8" stroke-width="0.15">Others</text><text x="327.2" y="611" font-size="5.6" fill="#3a6aa8" text-anchor="end" textLength="56.5" lengthAdjust="spacingAndGlyphs">(negatively correlated)</text><rect x="380.5" y="504.5" width="133.0" height="108.0" fill="none" stroke="#333" stroke-width="1"/><line x1="380.5" x2="513.5" y1="554.5" y2="554.5" stroke="#ddd" stroke-width="0.8"/><line x1="380.6" x2="380.6" y1="557" y2="574" stroke="#111" stroke-width="0.75"/><line x1="383.2" x2="383.2" y1="557" y2="574" stroke="#555" stroke-width="0.75"/><line x1="384.5" x2="384.5" y1="557" y2="574" stroke="#555" stroke-width="0.75"/><line x1="386.1" x2="386.1" y1="557" y2="574" stroke="#555" stroke-width="0.75"/><line x1="387.4" x2="387.4" y1="557" y2="574" stroke="#555" stroke-width="0.75"/><line x1="393" x2="393" y1="557" y2="574" stroke="#555" stroke-width="0.75"/><line x1="401.8" x2="401.8" y1="557" y2="574" stroke="#555" stroke-width="0.75"/><line x1="408.3" x2="408.3" y1="557" y2="574" stroke="#555" stroke-width="0.75"/><line x1="412.8" x2="412.8" y1="557" y2="574" stroke="#555" stroke-width="0.75"/><line x1="414" x2="414" y1="557" y2="574" stroke="#555" stroke-width="0.75"/><line x1="415.5" x2="415.5" y1="557" y2="574" stroke="#555" stroke-width="0.75"/><line x1="416.5" x2="416.5" y1="557" y2="574" stroke="#555" stroke-width="0.75"/><line x1="419.8" x2="419.8" y1="557" y2="574" stroke="#555" stroke-width="0.75"/><line x1="422.4" x2="422.4" y1="557" y2="574" stroke="#555" stroke-width="0.75"/><line x1="426.4" x2="426.4" y1="557" y2="574" stroke="#555" stroke-width="0.75"/><line x1="430.9" x2="430.9" y1="557" y2="574" stroke="#555" stroke-width="0.75"/><line x1="438.8" x2="438.8" y1="557" y2="574" stroke="#555" stroke-width="0.75"/><line x1="443.1" x2="443.1" y1="557" y2="574" stroke="#555" stroke-width="0.75"/><line x1="448.6" x2="448.6" y1="557" y2="574" stroke="#555" stroke-width="0.75"/><line x1="455.1" x2="455.1" y1="557" y2="574" stroke="#555" stroke-width="0.75"/><line x1="460.3" x2="460.3" y1="557" y2="574" stroke="#555" stroke-width="0.75"/><line x1="464.7" x2="464.7" y1="557" y2="574" stroke="#555" stroke-width="0.75"/><line x1="468.2" x2="468.2" y1="557" y2="574" stroke="#555" stroke-width="0.75"/><line x1="472.5" x2="472.5" y1="557" y2="574" stroke="#555" stroke-width="0.75"/><line x1="473.8" x2="473.8" y1="557" y2="574" stroke="#555" stroke-width="0.75"/><line x1="476.4" x2="476.4" y1="557" y2="574" stroke="#555" stroke-width="0.75"/><line x1="478.2" x2="478.2" y1="557" y2="574" stroke="#555" stroke-width="0.75"/><line x1="481.9" x2="481.9" y1="557" y2="574" stroke="#555" stroke-width="0.75"/><line x1="483.2" x2="483.2" y1="557" y2="574" stroke="#555" stroke-width="0.75"/><line x1="488.4" x2="488.4" y1="557" y2="574" stroke="#555" stroke-width="0.75"/><line x1="491.1" x2="491.1" y1="557" y2="574" stroke="#555" stroke-width="0.75"/><line x1="497.6" x2="497.6" y1="557" y2="574" stroke="#555" stroke-width="0.75"/><rect x="380.5" y="574.5" width="26.9" height="3.8" fill="#ee2a30"/><rect x="407.1" y="574.5" width="13.3" height="3.8" fill="#f05a70"/><rect x="420.0" y="574.5" width="15.8" height="3.8" fill="#f37a85"/><rect x="435.5" y="574.5" width="20.4" height="3.8" fill="#f8c2d8"/><rect x="455.7" y="574.5" width="14.0" height="3.8" fill="#e4dcf2"/><rect x="469.4" y="574.5" width="11.4" height="3.8" fill="#d2c8ec"/><rect x="480.5" y="574.5" width="8.5" height="3.8" fill="#8a86cc"/><rect x="488.6" y="574.5" width="15.3" height="3.8" fill="#5252b2"/><rect x="503.6" y="574.5" width="3.1" height="3.8" fill="#1c2a8e"/><line x1="380.5" x2="513.5" y1="579.3" y2="579.3" stroke="#e6e6e6" stroke-width="0.6"/><path fill="#c8c8c8" d="M381.0,595.8 L381.0,589 C383.5,592.5 388.5,593.8 400.5,594.5 L437.155,595.8 L481.21999999999997,596.4 C496.328,597.0 504.4,597.3 505.4,598.8 L506.4,611 L506.4,595.8 Z"/><line x1="381.0" x2="506.4" y1="595.8" y2="595.8" stroke="#aaa" stroke-width="0.5"/><polyline fill="none" stroke="#52ba30" stroke-width="1.25" stroke-linejoin="round" points="380.7,554.0 381.4,540.4 382.0,530.3 383.4,530.7 384.7,518.2 386.1,512.8 387.4,510.8 388.8,510.5 390.4,511.4 391.5,509.7 393.5,506.7 399.5,511.0 402.2,508.3 404.9,510.5 408.3,510.1 413.0,512.1 417.0,511.4 419.7,512.8 423.8,513.2 427.1,514.1 433.2,517.5 440.0,521.6 448.7,525.3 464.5,536.1 472.5,540.7 478.2,542.1 481.8,543.3 483.3,543.0 490.5,546.5 497.0,550.5 498.0,548.3 506.4,554.1"/><line x1="377.0" x2="380.5" y1="554.5" y2="554.5" stroke="#333" stroke-width="1"/><text x="373.7" y="557.1" font-size="8.8" fill="#222" text-anchor="end" stroke="#222" stroke-width="0.15">0.0</text><line x1="377.0" x2="380.5" y1="545.5" y2="545.5" stroke="#333" stroke-width="1"/><line x1="377.0" x2="380.5" y1="537.5" y2="537.5" stroke="#333" stroke-width="1"/><text x="373.7" y="540.7" font-size="8.8" fill="#222" text-anchor="end" stroke="#222" stroke-width="0.15">0.2</text><line x1="377.0" x2="380.5" y1="529.5" y2="529.5" stroke="#333" stroke-width="1"/><line x1="377.0" x2="380.5" y1="521.5" y2="521.5" stroke="#333" stroke-width="1"/><text x="373.7" y="524.3" font-size="8.8" fill="#222" text-anchor="end" stroke="#222" stroke-width="0.15">0.4</text><line x1="377.0" x2="380.5" y1="513.5" y2="513.5" stroke="#333" stroke-width="1"/><line x1="377.0" x2="380.5" y1="504.5" y2="504.5" stroke="#333" stroke-width="1"/><text x="373.7" y="507.9" font-size="8.8" fill="#222" text-anchor="end" stroke="#222" stroke-width="0.15">0.6</text><line x1="409.5" x2="409.5" y1="612.5" y2="615.5" stroke="#333" stroke-width="1"/><line x1="438.5" x2="438.5" y1="612.5" y2="615.5" stroke="#333" stroke-width="1"/><line x1="466.5" x2="466.5" y1="612.5" y2="615.5" stroke="#333" stroke-width="1"/><line x1="495.5" x2="495.5" y1="612.5" y2="615.5" stroke="#333" stroke-width="1"/><text x="357.7" y="529.2" font-size="9.8" fill="#222" text-anchor="middle" transform="rotate(-90 357.7 529.2)" textLength="56.4" lengthAdjust="spacingAndGlyphs" stroke="#222" stroke-width="0.15">Enrichment score</text><text x="387.7" y="539.7" font-size="8.1" fill="#222" stroke="#222" stroke-width="0.15" textLength="32.6" lengthAdjust="spacingAndGlyphs">NES 1.73</text><text x="387.7" y="549" font-size="8.1" fill="#222" stroke="#222" stroke-width="0.15" textLength="41.2" lengthAdjust="spacingAndGlyphs">FDR &lt;0.001</text><text x="408.1" y="488.3" font-size="9.6" fill="#222" stroke="#222" stroke-width="0.2" textLength="77.2" lengthAdjust="spacingAndGlyphs">RNA polymerase I</text><text x="410.3" y="498.5" font-size="9.6" fill="#222" stroke="#222" stroke-width="0.2" textLength="72.7" lengthAdjust="spacingAndGlyphs">promoter escape</text><text x="382.0" y="587.3" font-size="7.2" fill="#d8284a" textLength="35" lengthAdjust="spacingAndGlyphs" stroke="#d8284a" stroke-width="0.15">CDX2/UBTF</text><text x="417.5" y="583.6" font-size="5.4" fill="#d8284a" textLength="51" lengthAdjust="spacingAndGlyphs">(positively correlated)</text><rect x="435.155" y="592.3" width="50" height="7" fill="#fff"/><text x="434.637" y="597.8" font-size="5.6" fill="#111" textLength="48" lengthAdjust="spacingAndGlyphs">Zero cross at 13131</text><text x="503.0" y="606.3" font-size="7.6" fill="#3a6aa8" text-anchor="end" textLength="20" lengthAdjust="spacingAndGlyphs" stroke="#3a6aa8" stroke-width="0.15">Others</text><text x="502.9" y="611" font-size="5.6" fill="#3a6aa8" text-anchor="end" textLength="56.5" lengthAdjust="spacingAndGlyphs">(negatively correlated)</text><rect x="0.5" y="0.5" width="519" height="622" fill="none" stroke="#161616" stroke-width="1.2"/></svg></body></html>
